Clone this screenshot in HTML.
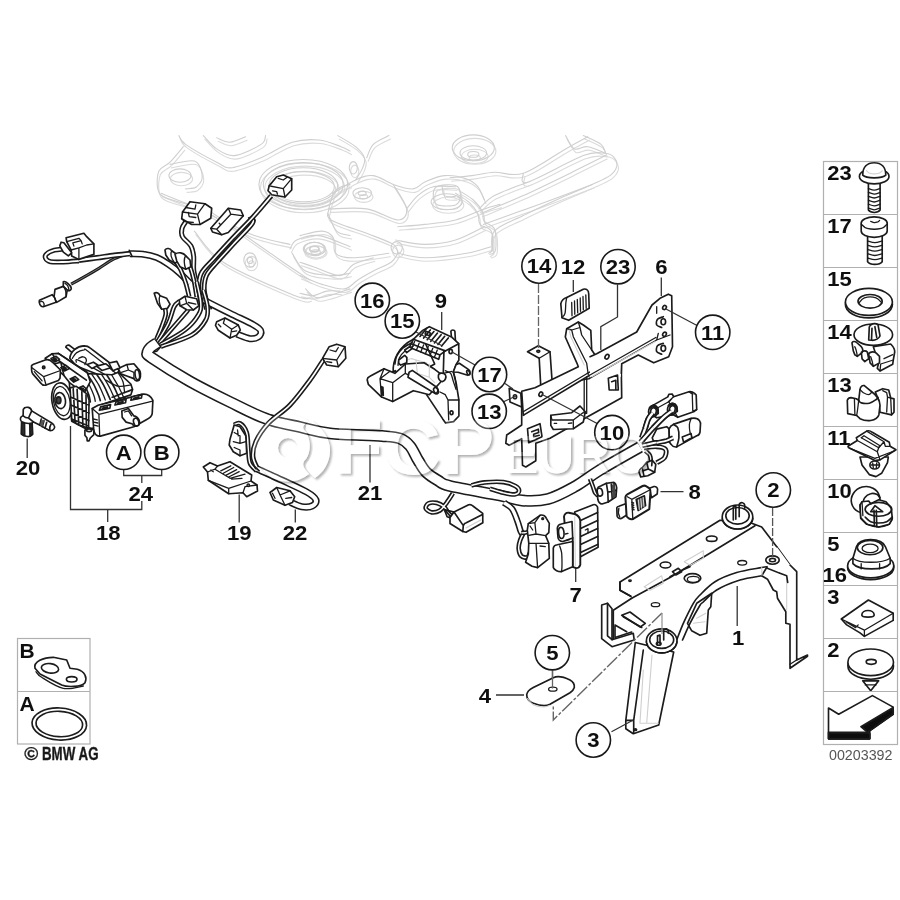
<!DOCTYPE html>
<html lang="en">
<head>
<meta charset="utf-8">
<title>BMW parts diagram 00203392</title>
<style>
html,body{margin:0;padding:0;background:#fff;}
body{width:900px;height:900px;overflow:hidden;font-family:"Liberation Sans",sans-serif;}
svg{display:block;}
.k{fill:none;stroke:#1a1a1a;stroke-width:1.65;stroke-linecap:round;stroke-linejoin:round;}
.kw{fill:#fff;stroke:#1a1a1a;stroke-width:1.65;stroke-linecap:round;stroke-linejoin:round;}
.t{fill:none;stroke:#1a1a1a;stroke-width:1.3;stroke-linecap:round;stroke-linejoin:round;}
.tw{fill:#fff;stroke:#1a1a1a;stroke-width:1.3;stroke-linecap:round;stroke-linejoin:round;}
.g{fill:none;stroke:#cfcfcf;stroke-width:1.1;stroke-linecap:round;stroke-linejoin:round;}
.gw{fill:#fff;stroke:#cfcfcf;stroke-width:1.1;stroke-linecap:round;stroke-linejoin:round;}
.ld{fill:none;stroke:#333;stroke-width:1.3;}
.c{fill:#fff;stroke:#1a1a1a;stroke-width:1.6;}
.n{font-family:"Liberation Sans",sans-serif;font-weight:bold;font-size:20px;fill:#111;text-anchor:middle;}
.nl{font-family:"Liberation Sans",sans-serif;font-weight:bold;font-size:20px;fill:#111;text-anchor:start;}
.fr{fill:none;stroke:#b0b0b0;stroke-width:1.2;}
.wo{stroke:#1a1a1a;fill:none;stroke-linecap:round;stroke-linejoin:round;}
.wi{stroke:#fff;fill:none;stroke-linecap:round;stroke-linejoin:round;}
</style>
</head>
<body>
<svg width="900" height="900" viewBox="0 0 900 900">
<defs><filter id="soft" x="0" y="0" width="900" height="900" filterUnits="userSpaceOnUse"><feGaussianBlur stdDeviation="0.42"/></filter></defs>
<rect width="900" height="900" fill="#fff"/>
<g filter="url(#soft)">
<g id="ghostdup" transform="translate(1.5 3.5)" style="opacity:0.75"><path class="g" d="M178.9 135.6C180 137 179.3 140 185.6 144.4C191.9 148.9 208.9 158.3 216.7 162.2C224.4 166.1 224.8 168.5 232.2 167.8C239.6 167 251.1 162 261.1 157.8C271.1 153.5 282.6 145.2 292.2 142.2C301.9 139.3 310.7 139.3 318.9 140C327 140.7 335.9 144.8 341.1 146.7C346.3 148.5 348.5 150.4 350 151.1" />
<path class="g" d="M203.3 135.6C205.6 137.8 211.5 145.6 216.7 148.9C221.9 152.2 227 156.3 234.4 155.6C241.9 154.8 255.9 147.8 261.1 144.4C266.3 141.1 264.8 137 265.6 135.6" />
<path class="g" d="M216.7 137.8C218.9 138.5 225.2 142.4 230 142.2C234.8 142 243 137.6 245.6 136.7" />
<path class="g" d="M183.3 146.7C181.1 149.3 174.1 158.1 170 162.2C165.9 166.3 160.9 166.7 158.9 171.1C156.9 175.6 156.7 184.4 157.8 188.9C158.9 193.3 159.4 194.8 165.6 197.8C171.7 200.7 185.9 203.3 194.4 206.7C203 210 213 215.9 216.7 217.8" />
<path class="g" d="M170 164.4C174.1 163.9 189.1 159.3 194.4 161.1C199.8 163 201.9 171.3 202.2 175.6C202.6 179.8 199.4 184.4 196.7 186.7C193.9 188.9 187.4 188.5 185.6 188.9" />
<ellipse class="g" cx="180" cy="175.6" rx="11.1" ry="6.7"/>
<path class="g" d="M161.1 193.3C164.8 194.8 174.8 198.9 183.3 202.2C191.9 205.6 207.4 211.5 212.2 213.3" />
<ellipse class="g" cx="303.3" cy="184.4" rx="44.4" ry="24.9"/>
<ellipse class="g" cx="303.3" cy="184.4" rx="40" ry="21.8"/>
<ellipse class="g" cx="303.3" cy="185.6" rx="34.4" ry="17.8"/>
<ellipse class="g" cx="303.3" cy="186.7" rx="31.1" ry="15.1"/>
<path class="g" d="M203.3 206.7C209.3 210.7 225.6 221.9 238.9 231.1C252.2 240.4 271.5 254.1 283.3 262.2C295.2 270.4 305.6 277 310 280" />
<path class="g" d="M194.4 231.1C199.3 236.3 206.7 251.5 223.3 262.2C240 273 280 289.6 294.4 295.6C308.9 301.5 307.4 297.4 310 297.8" />
<path class="g" d="M223.3 220C228.5 222.6 243.3 231.5 254.4 235.6C265.6 239.6 284.1 243 290 244.4" />
<path class="g" d="M290 248.9C291.1 247.4 291.9 242.2 296.7 240C301.5 237.8 310 234.4 318.9 235.6C327.8 236.7 344.8 244.8 350 246.7" />
<ellipse class="g" cx="314.4" cy="248.4" rx="10" ry="6.2"/>
<ellipse class="g" cx="314.4" cy="248.9" rx="4.4" ry="2.7"/>
<path class="g" d="M292.2 253.3C294.4 256.3 298.9 267.4 305.6 271.1C312.2 274.8 324.8 275.2 332.2 275.6C339.6 275.9 347 273.7 350 273.3" />
<path class="g" d="M305.6 288.9C307.8 290.4 311.5 297.8 318.9 297.8C326.3 297.8 344.8 290.4 350 288.9" />
<ellipse class="g" cx="250" cy="260" rx="6.2" ry="7.1"/>
<ellipse class="g" cx="250" cy="260.4" rx="2.7" ry="3.1"/>
<path class="g" d="M332.2 193.3C333.7 192.2 338.1 188.1 341.1 186.7C344.1 185.2 348.5 184.8 350 184.4" />
<path class="g" d="M327.8 213.3C329.3 216.3 333 227.4 336.7 231.1C340.4 234.8 347.8 234.8 350 235.6" />
<ellipse class="g" cx="362.2" cy="193.3" rx="9.3" ry="5.6"/>
<ellipse class="g" cx="362.2" cy="193.3" rx="4" ry="2.2"/>
<ellipse class="g" cx="314.4" cy="248.9" rx="11.1" ry="6.7"/>
<ellipse class="g" cx="314.4" cy="249.3" rx="4.9" ry="2.9"/>
<ellipse class="g" cx="473.3" cy="147.8" rx="21.1" ry="12.9"/>
<ellipse class="g" cx="473.3" cy="152.9" rx="13.3" ry="7.1"/>
<ellipse class="g" cx="473.3" cy="154.4" rx="5.6" ry="2.9"/>
<path class="g" d="M333.3 193.3C337 191.1 348.9 183 355.6 180C362.2 177 367 174.8 373.3 175.6C379.6 176.3 386.7 182.2 393.3 184.4C400 186.7 408.1 189.3 413.3 188.9C418.5 188.5 419.3 184.4 424.4 182.2C429.6 180 437.4 176.1 444.4 175.6C451.5 175 461.1 177 466.7 178.9C472.2 180.7 474.8 183.1 477.8 186.7C480.7 190.2 483.3 197.8 484.4 200" />
<path class="g" d="M333.3 193.3C332.6 195.9 329.3 204.4 328.9 208.9C328.5 213.3 324.8 215.9 331.1 220C337.4 224.1 356.3 229.3 366.7 233.3C377 237.4 388.1 241.1 393.3 244.4C398.5 247.8 397 251.9 397.8 253.3" />
<path class="g" d="M393.3 184.4C395.6 188.5 405.9 203 406.7 208.9C407.4 214.8 404.4 220 397.8 220C391.1 220 378.1 210.7 366.7 208.9C355.2 207 335.2 208.9 328.9 208.9" />
<path class="g" d="M406.7 208.9C408.5 206.7 413.3 199.3 417.8 195.6C422.2 191.9 427 188.1 433.3 186.7C439.6 185.2 451.9 186.7 455.6 186.7" />
<path class="g" d="M397.8 226.7C402.2 226.3 414.8 225.6 424.4 224.4C434.1 223.3 445.6 222.6 455.6 220C465.6 217.4 477 211.5 484.4 208.9C491.9 206.3 497.4 205.2 500 204.4" />
<path class="g" d="M395.6 240C400.4 240.7 414.4 244.4 424.4 244.4C434.4 244.4 445.6 243 455.6 240C465.6 237 479.6 228.9 484.4 226.7" />
<path class="g" d="M397.8 253.3C402.2 254.1 413 257.8 424.4 257.8C435.9 257.8 455.6 255.2 466.7 253.3C477.8 251.5 487 247.8 491.1 246.7" />
<path class="g" d="M300 235.6C303.7 234.8 316.7 230.7 322.2 231.1C327.8 231.5 331.1 234.1 333.3 237.8C335.6 241.5 332.2 250 335.6 253.3C338.9 256.7 344.4 257.8 353.3 257.8C362.2 257.8 383 254.1 388.9 253.3" />
<path class="g" d="M300 275.6C303.7 277 314.8 282.2 322.2 284.4C329.6 286.7 338.5 289.6 344.4 288.9C350.4 288.1 353 283 357.8 280C362.6 277 367.8 274.1 373.3 271.1C378.9 268.1 387 265.2 391.1 262.2C395.2 259.3 396.7 254.8 397.8 253.3" />
<path class="g" d="M300 262.2C302.2 263 306.7 264.4 313.3 266.7C320 268.9 333.3 275.9 340 275.6C346.7 275.2 347.8 267.4 353.3 264.4C358.9 261.5 370 258.9 373.3 257.8" />
<path class="g" d="M337.8 135.6C340.7 137.4 351.1 143 355.6 146.7C360 150.4 363.3 154.1 364.4 157.8C365.6 161.5 363.7 165.2 362.2 168.9C360.7 172.6 356.7 178.1 355.6 180" />
<path class="g" d="M388.9 135.6C386.3 137 377 140.7 373.3 144.4C369.6 148.1 367.8 155.6 366.7 157.8" />
<path class="g" d="M300 293.3C302.2 293.7 308.9 295.9 313.3 295.6C317.8 295.2 322.2 291.9 326.7 291.1C331.1 290.4 337.8 291.1 340 291.1" />
<ellipse class="g" cx="353.3" cy="167.8" rx="4" ry="6.2"/>
<ellipse class="g" cx="396.7" cy="247.8" rx="5.6" ry="6.2"/>
<g style="stroke:#b4b4b4">
<ellipse class="g" cx="446.7" cy="201.8" rx="15.6" ry="8"/>
<path class="g" d="M436.7 186.7C440.4 184.8 451.6 184.1 455.6 185.6C459.5 187 460.4 192.3 460.4 195.6C460.4 198.8 459.3 203.3 455.6 204.9C451.8 206.4 441.5 206.3 437.8 204.9C434.1 203.5 433.5 199.7 433.3 196.7C433.1 193.6 433 188.5 436.7 186.7Z" />
<path class="g" d="M442.2 186.7C442.6 188.1 442.2 193.9 444.4 195.6C446.7 197.2 453.7 196.5 455.6 196.7" />
<path class="g" d="M455.6 193.3C457.8 194.8 465.2 198.9 468.9 202.2C472.6 205.6 475.9 209.6 477.8 213.3C479.6 217 477.8 221.5 480 224.4C482.2 227.4 489.1 227 491.1 231.1C493.1 235.2 492.6 245.2 492.2 248.9C491.9 252.6 489.4 252.6 488.9 253.3" />
<path class="g" d="M460 191.1C462.2 192.6 469.6 196.7 473.3 200C477 203.3 480.4 207.6 482.2 211.1C484 214.6 482 218.1 484 221.1C486 224.1 492.5 224.1 494.4 228.9C496.4 233.7 496.3 245.7 495.6 250C494.8 254.3 490.9 253.7 490 254.4" />
</g>
<path class="g" d="M450 177.8C453.7 177.4 464.8 176.5 472.2 175.6C479.6 174.6 485.9 172.6 494.4 172.2C503 171.9 511.5 177.2 523.3 173.3C535.2 169.4 554.8 155 565.6 148.9C576.3 142.8 584.1 138.7 587.8 136.7" />
<path class="g" d="M523.3 173.3C524.1 174.8 517.8 185.2 527.8 182.2C537.8 179.3 570.4 160.4 583.3 155.6C596.3 150.7 600.4 153 605.6 153.3C610.7 153.7 612.6 155.6 614.4 157.8C616.3 160 617.4 163.7 616.7 166.7C615.9 169.6 614.1 172.6 610 175.6C605.9 178.5 600.4 180.7 592.2 184.4C584.1 188.1 572.6 192.6 561.1 197.8C549.6 203 534.4 210 523.3 215.6C512.2 221.1 499.6 225.2 494.4 231.1C489.3 237 492.6 247.8 492.2 251.1" />
<path class="g" d="M527.8 182.2C522.2 184.4 502.6 191.1 494.4 195.6C486.3 200 481.5 206.7 478.9 208.9" />
<path class="g" d="M481.1 213.3C488.1 210.4 507.8 202.6 523.3 195.6C538.9 188.5 560.7 177.8 574.4 171.1C588.1 164.4 600.4 158.1 605.6 155.6" />
<path class="g" d="M483.3 224.4C492.6 221.1 520.7 211.1 538.9 204.4C557 197.8 583.3 187.8 592.2 184.4" />
<path class="g" d="M565.6 135.6C567 137.8 570.7 147 574.4 148.9C578.1 150.7 582.6 145.9 587.8 146.7C593 147.4 602.6 152.2 605.6 153.3" />
<path class="g" d="M583.3 135.6C586.3 137 597.4 141.5 601.1 144.4C604.8 147.4 604.8 151.9 605.6 153.3" /></g>
<path class="g" d="M178.9 135.6C180 137 179.3 140 185.6 144.4C191.9 148.9 208.9 158.3 216.7 162.2C224.4 166.1 224.8 168.5 232.2 167.8C239.6 167 251.1 162 261.1 157.8C271.1 153.5 282.6 145.2 292.2 142.2C301.9 139.3 310.7 139.3 318.9 140C327 140.7 335.9 144.8 341.1 146.7C346.3 148.5 348.5 150.4 350 151.1" />
<path class="g" d="M203.3 135.6C205.6 137.8 211.5 145.6 216.7 148.9C221.9 152.2 227 156.3 234.4 155.6C241.9 154.8 255.9 147.8 261.1 144.4C266.3 141.1 264.8 137 265.6 135.6" />
<path class="g" d="M216.7 137.8C218.9 138.5 225.2 142.4 230 142.2C234.8 142 243 137.6 245.6 136.7" />
<path class="g" d="M183.3 146.7C181.1 149.3 174.1 158.1 170 162.2C165.9 166.3 160.9 166.7 158.9 171.1C156.9 175.6 156.7 184.4 157.8 188.9C158.9 193.3 159.4 194.8 165.6 197.8C171.7 200.7 185.9 203.3 194.4 206.7C203 210 213 215.9 216.7 217.8" />
<path class="g" d="M170 164.4C174.1 163.9 189.1 159.3 194.4 161.1C199.8 163 201.9 171.3 202.2 175.6C202.6 179.8 199.4 184.4 196.7 186.7C193.9 188.9 187.4 188.5 185.6 188.9" />
<ellipse class="g" cx="180" cy="175.6" rx="11.1" ry="6.7"/>
<path class="g" d="M161.1 193.3C164.8 194.8 174.8 198.9 183.3 202.2C191.9 205.6 207.4 211.5 212.2 213.3" />
<ellipse class="g" cx="303.3" cy="184.4" rx="44.4" ry="24.9"/>
<ellipse class="g" cx="303.3" cy="184.4" rx="40" ry="21.8"/>
<ellipse class="g" cx="303.3" cy="185.6" rx="34.4" ry="17.8"/>
<ellipse class="g" cx="303.3" cy="186.7" rx="31.1" ry="15.1"/>
<path class="g" d="M203.3 206.7C209.3 210.7 225.6 221.9 238.9 231.1C252.2 240.4 271.5 254.1 283.3 262.2C295.2 270.4 305.6 277 310 280" />
<path class="g" d="M194.4 231.1C199.3 236.3 206.7 251.5 223.3 262.2C240 273 280 289.6 294.4 295.6C308.9 301.5 307.4 297.4 310 297.8" />
<path class="g" d="M223.3 220C228.5 222.6 243.3 231.5 254.4 235.6C265.6 239.6 284.1 243 290 244.4" />
<path class="g" d="M290 248.9C291.1 247.4 291.9 242.2 296.7 240C301.5 237.8 310 234.4 318.9 235.6C327.8 236.7 344.8 244.8 350 246.7" />
<ellipse class="g" cx="314.4" cy="248.4" rx="10" ry="6.2"/>
<ellipse class="g" cx="314.4" cy="248.9" rx="4.4" ry="2.7"/>
<path class="g" d="M292.2 253.3C294.4 256.3 298.9 267.4 305.6 271.1C312.2 274.8 324.8 275.2 332.2 275.6C339.6 275.9 347 273.7 350 273.3" />
<path class="g" d="M305.6 288.9C307.8 290.4 311.5 297.8 318.9 297.8C326.3 297.8 344.8 290.4 350 288.9" />
<ellipse class="g" cx="250" cy="260" rx="6.2" ry="7.1"/>
<ellipse class="g" cx="250" cy="260.4" rx="2.7" ry="3.1"/>
<path class="g" d="M332.2 193.3C333.7 192.2 338.1 188.1 341.1 186.7C344.1 185.2 348.5 184.8 350 184.4" />
<path class="g" d="M327.8 213.3C329.3 216.3 333 227.4 336.7 231.1C340.4 234.8 347.8 234.8 350 235.6" />
<ellipse class="g" cx="362.2" cy="193.3" rx="9.3" ry="5.6"/>
<ellipse class="g" cx="362.2" cy="193.3" rx="4" ry="2.2"/>
<ellipse class="g" cx="314.4" cy="248.9" rx="11.1" ry="6.7"/>
<ellipse class="g" cx="314.4" cy="249.3" rx="4.9" ry="2.9"/>
<ellipse class="g" cx="473.3" cy="147.8" rx="21.1" ry="12.9"/>
<ellipse class="g" cx="473.3" cy="152.9" rx="13.3" ry="7.1"/>
<ellipse class="g" cx="473.3" cy="154.4" rx="5.6" ry="2.9"/>
<path class="g" d="M333.3 193.3C337 191.1 348.9 183 355.6 180C362.2 177 367 174.8 373.3 175.6C379.6 176.3 386.7 182.2 393.3 184.4C400 186.7 408.1 189.3 413.3 188.9C418.5 188.5 419.3 184.4 424.4 182.2C429.6 180 437.4 176.1 444.4 175.6C451.5 175 461.1 177 466.7 178.9C472.2 180.7 474.8 183.1 477.8 186.7C480.7 190.2 483.3 197.8 484.4 200" />
<path class="g" d="M333.3 193.3C332.6 195.9 329.3 204.4 328.9 208.9C328.5 213.3 324.8 215.9 331.1 220C337.4 224.1 356.3 229.3 366.7 233.3C377 237.4 388.1 241.1 393.3 244.4C398.5 247.8 397 251.9 397.8 253.3" />
<path class="g" d="M393.3 184.4C395.6 188.5 405.9 203 406.7 208.9C407.4 214.8 404.4 220 397.8 220C391.1 220 378.1 210.7 366.7 208.9C355.2 207 335.2 208.9 328.9 208.9" />
<path class="g" d="M406.7 208.9C408.5 206.7 413.3 199.3 417.8 195.6C422.2 191.9 427 188.1 433.3 186.7C439.6 185.2 451.9 186.7 455.6 186.7" />
<path class="g" d="M397.8 226.7C402.2 226.3 414.8 225.6 424.4 224.4C434.1 223.3 445.6 222.6 455.6 220C465.6 217.4 477 211.5 484.4 208.9C491.9 206.3 497.4 205.2 500 204.4" />
<path class="g" d="M395.6 240C400.4 240.7 414.4 244.4 424.4 244.4C434.4 244.4 445.6 243 455.6 240C465.6 237 479.6 228.9 484.4 226.7" />
<path class="g" d="M397.8 253.3C402.2 254.1 413 257.8 424.4 257.8C435.9 257.8 455.6 255.2 466.7 253.3C477.8 251.5 487 247.8 491.1 246.7" />
<path class="g" d="M300 235.6C303.7 234.8 316.7 230.7 322.2 231.1C327.8 231.5 331.1 234.1 333.3 237.8C335.6 241.5 332.2 250 335.6 253.3C338.9 256.7 344.4 257.8 353.3 257.8C362.2 257.8 383 254.1 388.9 253.3" />
<path class="g" d="M300 275.6C303.7 277 314.8 282.2 322.2 284.4C329.6 286.7 338.5 289.6 344.4 288.9C350.4 288.1 353 283 357.8 280C362.6 277 367.8 274.1 373.3 271.1C378.9 268.1 387 265.2 391.1 262.2C395.2 259.3 396.7 254.8 397.8 253.3" />
<path class="g" d="M300 262.2C302.2 263 306.7 264.4 313.3 266.7C320 268.9 333.3 275.9 340 275.6C346.7 275.2 347.8 267.4 353.3 264.4C358.9 261.5 370 258.9 373.3 257.8" />
<path class="g" d="M337.8 135.6C340.7 137.4 351.1 143 355.6 146.7C360 150.4 363.3 154.1 364.4 157.8C365.6 161.5 363.7 165.2 362.2 168.9C360.7 172.6 356.7 178.1 355.6 180" />
<path class="g" d="M388.9 135.6C386.3 137 377 140.7 373.3 144.4C369.6 148.1 367.8 155.6 366.7 157.8" />
<path class="g" d="M300 293.3C302.2 293.7 308.9 295.9 313.3 295.6C317.8 295.2 322.2 291.9 326.7 291.1C331.1 290.4 337.8 291.1 340 291.1" />
<ellipse class="g" cx="353.3" cy="167.8" rx="4" ry="6.2"/>
<ellipse class="g" cx="396.7" cy="247.8" rx="5.6" ry="6.2"/>
<g style="stroke:#b4b4b4">
<ellipse class="g" cx="446.7" cy="201.8" rx="15.6" ry="8"/>
<path class="g" d="M436.7 186.7C440.4 184.8 451.6 184.1 455.6 185.6C459.5 187 460.4 192.3 460.4 195.6C460.4 198.8 459.3 203.3 455.6 204.9C451.8 206.4 441.5 206.3 437.8 204.9C434.1 203.5 433.5 199.7 433.3 196.7C433.1 193.6 433 188.5 436.7 186.7Z" />
<path class="g" d="M442.2 186.7C442.6 188.1 442.2 193.9 444.4 195.6C446.7 197.2 453.7 196.5 455.6 196.7" />
<path class="g" d="M455.6 193.3C457.8 194.8 465.2 198.9 468.9 202.2C472.6 205.6 475.9 209.6 477.8 213.3C479.6 217 477.8 221.5 480 224.4C482.2 227.4 489.1 227 491.1 231.1C493.1 235.2 492.6 245.2 492.2 248.9C491.9 252.6 489.4 252.6 488.9 253.3" />
<path class="g" d="M460 191.1C462.2 192.6 469.6 196.7 473.3 200C477 203.3 480.4 207.6 482.2 211.1C484 214.6 482 218.1 484 221.1C486 224.1 492.5 224.1 494.4 228.9C496.4 233.7 496.3 245.7 495.6 250C494.8 254.3 490.9 253.7 490 254.4" />
</g>
<path class="g" d="M450 177.8C453.7 177.4 464.8 176.5 472.2 175.6C479.6 174.6 485.9 172.6 494.4 172.2C503 171.9 511.5 177.2 523.3 173.3C535.2 169.4 554.8 155 565.6 148.9C576.3 142.8 584.1 138.7 587.8 136.7" />
<path class="g" d="M523.3 173.3C524.1 174.8 517.8 185.2 527.8 182.2C537.8 179.3 570.4 160.4 583.3 155.6C596.3 150.7 600.4 153 605.6 153.3C610.7 153.7 612.6 155.6 614.4 157.8C616.3 160 617.4 163.7 616.7 166.7C615.9 169.6 614.1 172.6 610 175.6C605.9 178.5 600.4 180.7 592.2 184.4C584.1 188.1 572.6 192.6 561.1 197.8C549.6 203 534.4 210 523.3 215.6C512.2 221.1 499.6 225.2 494.4 231.1C489.3 237 492.6 247.8 492.2 251.1" />
<path class="g" d="M527.8 182.2C522.2 184.4 502.6 191.1 494.4 195.6C486.3 200 481.5 206.7 478.9 208.9" />
<path class="g" d="M481.1 213.3C488.1 210.4 507.8 202.6 523.3 195.6C538.9 188.5 560.7 177.8 574.4 171.1C588.1 164.4 600.4 158.1 605.6 155.6" />
<path class="g" d="M483.3 224.4C492.6 221.1 520.7 211.1 538.9 204.4C557 197.8 583.3 187.8 592.2 184.4" />
<path class="g" d="M565.6 135.6C567 137.8 570.7 147 574.4 148.9C578.1 150.7 582.6 145.9 587.8 146.7C593 147.4 602.6 152.2 605.6 153.3" />
<path class="g" d="M583.3 135.6C586.3 137 597.4 141.5 601.1 144.4C604.8 147.4 604.8 151.9 605.6 153.3" />
<path d="M71.1 284.2C73.5 282.9 80.9 278.8 85.6 276.1C90.2 273.5 94.1 271.2 98.9 268.3C103.7 265.4 109.3 261.2 114.4 258.7C119.6 256.1 127.4 254 130 253.1" fill="none" stroke="#1a1a1a" stroke-width="3.1" stroke-linecap="butt" stroke-linejoin="round"/><path d="M71.1 284.2C73.5 282.9 80.9 278.8 85.6 276.1C90.2 273.5 94.1 271.2 98.9 268.3C103.7 265.4 109.3 261.2 114.4 258.7C119.6 256.1 127.4 254 130 253.1" fill="none" stroke="#fff" stroke-width="0.4" stroke-linecap="butt" stroke-linejoin="round"/>
<path d="M63.3 249.1C61.9 249.3 57.2 249.4 54.4 250.2C51.7 251 48.1 252.5 46.7 253.9C45.2 255.2 44.9 257 45.6 258.3C46.2 259.6 47.6 261.1 50.6 261.7C53.5 262.3 58.6 262.1 63.3 262C68.1 261.9 76.3 261.1 78.9 260.9" fill="none" stroke="#1a1a1a" stroke-width="5" stroke-linecap="butt" stroke-linejoin="round"/><path d="M63.3 249.1C61.9 249.3 57.2 249.4 54.4 250.2C51.7 251 48.1 252.5 46.7 253.9C45.2 255.2 44.9 257 45.6 258.3C46.2 259.6 47.6 261.1 50.6 261.7C53.5 262.3 58.6 262.1 63.3 262C68.1 261.9 76.3 261.1 78.9 260.9" fill="none" stroke="#fff" stroke-width="1.9" stroke-linecap="butt" stroke-linejoin="round"/>
<path d="M78.9 260.2C81.9 259.8 90.7 258.6 96.7 257.8C102.6 257 108.9 256 114.4 255.3C120 254.6 127.4 253.9 130 253.6" fill="none" stroke="#1a1a1a" stroke-width="5.5" stroke-linecap="butt" stroke-linejoin="round"/><path d="M78.9 260.2C81.9 259.8 90.7 258.6 96.7 257.8C102.6 257 108.9 256 114.4 255.3C120 254.6 127.4 253.9 130 253.6" fill="none" stroke="#fff" stroke-width="2.3" stroke-linecap="butt" stroke-linejoin="round"/>
<path class="kw" d="M66.1 237.8 L83.9 233.3 L86.7 236.7 L93.9 243.9 L93.9 254.4 L78.9 259.4 L71.7 256.1 L71.1 250 L66.7 241.7 Z" />
<path class="t" d="M71.1 250 L78.9 247.8 L78.9 259.4 M78.9 247.8 L86.7 245 L93.9 243.9 M66.7 241.7 L78.9 238.3 L81.1 240.6 L72.8 242.8 L73.9 246.1 M81.1 240.6 L82.2 243.9" />
<path class="kw" d="M61.1 242.2 L63.9 242.8 L71.7 252.8 L68.3 255.8 L63.3 252.2 L59.8 245.8 Z" />
<path class="kw" d="M63.3 281.7 C65.6 280.6 71.1 285.6 71.3 288.3 C71.3 290.6 68.9 291.1 67.2 290.2 L63.3 286.7 Z" />
<path class="kw" d="M55 289.4 L63.3 286.4 L67.2 290.2 L66.1 296.7 L56.7 302.4 L53.9 297.8 Z" />
<path class="kw" d="M39.4 300.2 L52.2 294.7 L54.7 297.8 L56.1 302.2 L43.3 306.7 C40.6 307.2 38.3 302.8 39.4 300.2 Z" />
<path class="t" d="M40.6 301.7 C42.2 300 45 303.3 43.9 306.1 M52.2 294.7 C53.9 295.6 55.6 300 56.1 302.2 M63.3 286.4 C65 287.8 66.1 292.2 66.1 296.7 M65 283.3 C67.2 284.4 68.9 287.8 68.9 290.6" />
<path d="M130 253.7C132.2 253.8 138.9 253.5 143.3 254.2C147.8 254.8 152.5 255.8 156.7 257.5C160.8 259.2 164.4 261.5 168.3 264.2C172.2 266.8 176.4 270.1 180 273.3C183.6 276.5 188.3 281.7 190 283.3" fill="none" stroke="#1a1a1a" stroke-width="7" stroke-linecap="butt" stroke-linejoin="round"/><path d="M130 253.7C132.2 253.8 138.9 253.5 143.3 254.2C147.8 254.8 152.5 255.8 156.7 257.5C160.8 259.2 164.4 261.5 168.3 264.2C172.2 266.8 176.4 270.1 180 273.3C183.6 276.5 188.3 281.7 190 283.3" fill="none" stroke="#fff" stroke-width="3.9" stroke-linecap="butt" stroke-linejoin="round"/>
<path class="k" d="M129.3 250.3 L132 256.3" />
<path d="M185.8 221.7C185.2 222.8 182.6 225.8 182 228.3C181.4 230.8 181 233.8 182.5 236.7C184 239.6 189 242.5 190.8 245.8C192.7 249.2 193.2 252.6 193.7 256.7C194.1 260.7 193.2 265.6 193.7 270C194.2 274.4 196.2 281.1 196.7 283.3" fill="none" stroke="#1a1a1a" stroke-width="5" stroke-linecap="butt" stroke-linejoin="round"/><path d="M185.8 221.7C185.2 222.8 182.6 225.8 182 228.3C181.4 230.8 181 233.8 182.5 236.7C184 239.6 189 242.5 190.8 245.8C192.7 249.2 193.2 252.6 193.7 256.7C194.1 260.7 193.2 265.6 193.7 270C194.2 274.4 196.2 281.1 196.7 283.3" fill="none" stroke="#fff" stroke-width="1.9" stroke-linecap="butt" stroke-linejoin="round"/>
<path d="M175 260C176 261.7 179 266.1 180.8 270C182.6 273.9 184.4 278.9 185.8 283.3C187.2 287.8 188.6 294.4 189.2 296.7" fill="none" stroke="#1a1a1a" stroke-width="4.7" stroke-linecap="butt" stroke-linejoin="round"/><path d="M175 260C176 261.7 179 266.1 180.8 270C182.6 273.9 184.4 278.9 185.8 283.3C187.2 287.8 188.6 294.4 189.2 296.7" fill="none" stroke="#fff" stroke-width="1.5" stroke-linecap="butt" stroke-linejoin="round"/>
<path d="M183.3 256.7C184.4 258.3 188.2 262.5 190 266.7C191.8 270.8 193.1 276.7 194.2 281.7C195.3 286.7 196.2 294.2 196.7 296.7" fill="none" stroke="#1a1a1a" stroke-width="4.7" stroke-linecap="butt" stroke-linejoin="round"/><path d="M183.3 256.7C184.4 258.3 188.2 262.5 190 266.7C191.8 270.8 193.1 276.7 194.2 281.7C195.3 286.7 196.2 294.2 196.7 296.7" fill="none" stroke="#fff" stroke-width="1.5" stroke-linecap="butt" stroke-linejoin="round"/>
<path d="M250 216.7C250.4 217.8 255.3 218.7 252.5 223.3C249.7 227.9 239.3 237.6 233.3 244.2C227.4 250.7 221.1 257.4 216.7 262.5C212.2 267.6 208.8 270.7 206.7 275C204.6 279.3 204.2 283.9 204.2 288.3C204.2 292.8 205.7 298.1 206.7 301.7C207.6 305.3 209.4 308.6 210 310" fill="none" stroke="#1a1a1a" stroke-width="4.9" stroke-linecap="butt" stroke-linejoin="round"/><path d="M250 216.7C250.4 217.8 255.3 218.7 252.5 223.3C249.7 227.9 239.3 237.6 233.3 244.2C227.4 250.7 221.1 257.4 216.7 262.5C212.2 267.6 208.8 270.7 206.7 275C204.6 279.3 204.2 283.9 204.2 288.3C204.2 292.8 205.7 298.1 206.7 301.7C207.6 305.3 209.4 308.6 210 310" fill="none" stroke="#fff" stroke-width="1.7" stroke-linecap="butt" stroke-linejoin="round"/>
<path d="M271.3 195.8C268.3 199.3 259.7 209.7 253.3 216.7C247 223.6 240 230.4 233.3 237.5C226.7 244.6 218.6 253.3 213.3 259.2C208.1 265 204.1 268.2 201.7 272.5C199.2 276.8 199.1 281 198.8 285C198.6 289 199.2 292.5 200 296.7C200.8 300.8 202.8 307.8 203.3 310" fill="none" stroke="#1a1a1a" stroke-width="4.9" stroke-linecap="butt" stroke-linejoin="round"/><path d="M271.3 195.8C268.3 199.3 259.7 209.7 253.3 216.7C247 223.6 240 230.4 233.3 237.5C226.7 244.6 218.6 253.3 213.3 259.2C208.1 265 204.1 268.2 201.7 272.5C199.2 276.8 199.1 281 198.8 285C198.6 289 199.2 292.5 200 296.7C200.8 300.8 202.8 307.8 203.3 310" fill="none" stroke="#fff" stroke-width="1.7" stroke-linecap="butt" stroke-linejoin="round"/>
<path class="kw" d="M269.2 185.8 L276.7 176.7 L283.3 175 L291.7 178.7 L291.7 190 L285 197 L271.7 194.7 L268 190.8 Z" />
<path class="t" d="M269.2 185.8 L283.3 188.7 L291.7 178.7 M283.3 188.7 L285 197 M272.5 190.8 L276.7 191.7 L277.5 194.2 M278.3 178.3 L283.3 180 L286.7 177.5" />
<path class="kw" d="M210.8 228.3 L228.3 208.3 L240.8 210 L243.3 215.8 L228.3 232.5 L221.7 234.7 L212.5 232 Z" />
<path class="t" d="M228.3 208.3 L230.8 214.2 L216.7 229.2 L210.8 228.3 M230.8 214.2 L243.3 215.8 M216.7 229.2 L221.7 234.7 M219.2 223.3 L220.8 225" />
<path class="kw" d="M182.5 212 L190 201.7 L205 203.7 L211.7 208.3 L210.8 218.3 L200 224.5 L191.7 224.5 L181.7 218.7 Z" />
<path class="t" d="M182.5 212 L197.5 214.2 L205 203.7 M197.5 214.2 L200 224.5 M185.8 207.5 L195 209.2 L195.8 205 M188.3 212.5 L189.2 216.7 L195.8 217.5 M181.7 218.7 L185 221.7 L193.3 222.5" />
<path class="kw" d="M165 250 C166.7 247.5 170 248.3 171.7 250.8 L176.7 254.2 L179.2 260 L175 263.3 L169.2 260 L165.8 255 Z" />
<path class="kw" d="M175 254.2 C178.3 251.7 183.3 252.5 185.8 255.8 L190 260 L190.8 266.7 L185.8 269.2 L180 266.7 L176.7 260.8 Z" />
<path class="t" d="M171.7 250.8 C170 253.3 170.8 258.3 175 263.3 M185.8 255.8 C183.3 258.3 184.2 265 185.8 269.2" />
<path d="M204.2 300.3C208.5 302.5 221.8 309.3 230 313.3C238.2 317.4 248.2 321.8 253.3 324.7C258.5 327.6 260 328.8 260.8 330.8C261.7 332.9 260.1 335.7 258.3 337C256.5 338.3 253.6 339.1 250 338.7C246.4 338.2 238.9 334.9 236.7 334.2" fill="none" stroke="#1a1a1a" stroke-width="7" stroke-linecap="butt" stroke-linejoin="round"/><path d="M204.2 300.3C208.5 302.5 221.8 309.3 230 313.3C238.2 317.4 248.2 321.8 253.3 324.7C258.5 327.6 260 328.8 260.8 330.8C261.7 332.9 260.1 335.7 258.3 337C256.5 338.3 253.6 339.1 250 338.7C246.4 338.2 238.9 334.9 236.7 334.2" fill="none" stroke="#fff" stroke-width="3.9" stroke-linecap="butt" stroke-linejoin="round"/>
<path class="kw" d="M216.7 321.7 L225 318 L238.3 325 L240.3 330 L236.7 335.3 L230 338 L218.3 330.3 L215.5 325.3 Z" />
<path class="t" d="M225 318 L223.3 323.3 L231.7 329.2 L230 338 M231.7 329.2 L238.3 325 M218.3 324.2 L220.8 326.7 M232.5 331.7 L236.7 330.8" />
<path d="M155.3 342C156.4 339.4 159.9 331.4 161.7 326.7C163.4 321.9 165.6 317.1 165.8 313.3C166.1 309.6 163.8 305.7 163.3 304.2" fill="none" stroke="#1a1a1a" stroke-width="4.7" stroke-linecap="butt" stroke-linejoin="round"/><path d="M155.3 342C156.4 339.4 159.9 331.4 161.7 326.7C163.4 321.9 165.6 317.1 165.8 313.3C166.1 309.6 163.8 305.7 163.3 304.2" fill="none" stroke="#fff" stroke-width="1.5" stroke-linecap="butt" stroke-linejoin="round"/>
<path d="M157 342.5C158.9 339.3 165.5 329.3 168.3 323.3C171.2 317.4 172.2 310.4 174.2 306.7C176.1 302.9 179 301.8 180 300.8" fill="none" stroke="#1a1a1a" stroke-width="4.7" stroke-linecap="butt" stroke-linejoin="round"/><path d="M157 342.5C158.9 339.3 165.5 329.3 168.3 323.3C171.2 317.4 172.2 310.4 174.2 306.7C176.1 302.9 179 301.8 180 300.8" fill="none" stroke="#fff" stroke-width="1.5" stroke-linecap="butt" stroke-linejoin="round"/>
<path d="M158.7 343.7C161.7 340.3 172 328.7 176.7 323.3C181.3 318 184.4 314.4 186.7 311.7C188.9 308.9 189.4 307.5 190 306.7" fill="none" stroke="#1a1a1a" stroke-width="4.7" stroke-linecap="butt" stroke-linejoin="round"/><path d="M158.7 343.7C161.7 340.3 172 328.7 176.7 323.3C181.3 318 184.4 314.4 186.7 311.7C188.9 308.9 189.4 307.5 190 306.7" fill="none" stroke="#fff" stroke-width="1.5" stroke-linecap="butt" stroke-linejoin="round"/>
<path d="M160 345C164.2 342.5 178.6 335 185 330C191.4 325 195.7 319.4 198.3 315C201 310.6 201.1 308.9 200.8 303.3C200.6 297.8 197.4 285.3 196.7 281.7" fill="none" stroke="#1a1a1a" stroke-width="4.7" stroke-linecap="butt" stroke-linejoin="round"/><path d="M160 345C164.2 342.5 178.6 335 185 330C191.4 325 195.7 319.4 198.3 315C201 310.6 201.1 308.9 200.8 303.3C200.6 297.8 197.4 285.3 196.7 281.7" fill="none" stroke="#fff" stroke-width="1.5" stroke-linecap="butt" stroke-linejoin="round"/>
<path d="M160.8 346.7C166 344.7 184.2 339.4 191.7 335C199.2 330.6 203.2 324.7 205.8 320C208.5 315.3 207.9 311.7 207.5 306.7C207.1 301.7 204 292.8 203.3 290" fill="none" stroke="#1a1a1a" stroke-width="4.7" stroke-linecap="butt" stroke-linejoin="round"/><path d="M160.8 346.7C166 344.7 184.2 339.4 191.7 335C199.2 330.6 203.2 324.7 205.8 320C208.5 315.3 207.9 311.7 207.5 306.7C207.1 301.7 204 292.8 203.3 290" fill="none" stroke="#fff" stroke-width="1.5" stroke-linecap="butt" stroke-linejoin="round"/>
<path class="kw" d="M154.2 293.3 C156.7 291.7 159.2 293.3 160 295.8 L166.7 298.3 L170 304.2 L167.5 308.3 L161.7 309.2 L157.5 303.3 Z" />
<path class="t" d="M160 295.8 C158.3 298.3 159.2 304.2 161.7 309.2" />
<path class="kw" d="M179.2 300 L185 296.3 L196.7 298.7 L198.7 305.8 L193.3 310 L186.7 309.7 L180 305.8 Z" />
<path class="t" d="M185 296.3 L186.7 303.3 L193.3 310 M186.7 303.3 L180 305.8 M188.3 302.5 L195.8 304.2" />
<path class="kw" d="M151.3 342 L155 340 L160.8 346.7 L156.7 351.3 L153.3 352 Z" />
<path d="M157 343C155.9 343.8 152.1 345.8 150.5 347.5C148.9 349.2 147.2 351.2 147.5 353C147.8 354.8 144.9 353.2 152 358C159.1 362.8 177 374.2 190 381.5C203 388.8 217.3 395.8 230 402C242.7 408.2 254.3 414.5 266 418.7C277.7 422.9 289.3 424.6 300 427C310.7 429.4 316.3 431.8 330 433.3C343.7 434.8 370.3 435.1 382 436C393.7 436.9 395.3 436.8 400 438.5C404.7 440.2 407 442.4 410 446C413 449.6 415.3 455.7 418 460C420.7 464.3 422.7 468.6 426 472C429.3 475.4 434 478.2 438 480.5C442 482.8 439.7 483.5 450 486C460.3 488.5 488 493.1 500 495.5C512 497.9 514 499.9 522 500.5C530 501.1 539.2 501.3 548 499C556.8 496.7 566.3 491.3 575 486.5C583.7 481.7 589.2 476.6 600 470C610.8 463.4 633.3 450.8 640 447" fill="none" stroke="#1a1a1a" stroke-width="11.9" stroke-linecap="butt" stroke-linejoin="round"/><path d="M157 343C155.9 343.8 152.1 345.8 150.5 347.5C148.9 349.2 147.2 351.2 147.5 353C147.8 354.8 144.9 353.2 152 358C159.1 362.8 177 374.2 190 381.5C203 388.8 217.3 395.8 230 402C242.7 408.2 254.3 414.5 266 418.7C277.7 422.9 289.3 424.6 300 427C310.7 429.4 316.3 431.8 330 433.3C343.7 434.8 370.3 435.1 382 436C393.7 436.9 395.3 436.8 400 438.5C404.7 440.2 407 442.4 410 446C413 449.6 415.3 455.7 418 460C420.7 464.3 422.7 468.6 426 472C429.3 475.4 434 478.2 438 480.5C442 482.8 439.7 483.5 450 486C460.3 488.5 488 493.1 500 495.5C512 497.9 514 499.9 522 500.5C530 501.1 539.2 501.3 548 499C556.8 496.7 566.3 491.3 575 486.5C583.7 481.7 589.2 476.6 600 470C610.8 463.4 633.3 450.8 640 447" fill="none" stroke="#fff" stroke-width="8.8" stroke-linecap="butt" stroke-linejoin="round"/>
<path class="kw" d="M65.8 347.1 C66.2 345.1 68.9 344.6 70.1 345.9 L75.6 350.2 L72.9 353.4 Z" />
<path class="kw" d="M69.8 358.3 C70.4 351.3 77.1 346.2 84.1 345.9 C87.2 345.9 88.8 346.7 90 347.8 L119.1 370 L116.8 375.4 L112.1 380.1 L76.3 366.1 Z" />
<path class="t" d="M78.7 358.3C79.4 358.1 82 356.5 83.3 356.8C84.6 357 86.2 358.6 86.4 359.9C86.7 361.2 85.1 363.8 84.9 364.6" />
<path class="t" d="M72.4 358.3C73.1 357.4 74.4 354.3 76.3 352.9C78.3 351.5 82.2 350 84.1 349.8C86.1 349.5 82.6 347.3 88 351.3C93.4 355.4 112 370.1 116.8 373.9" />
<path class="t" d="M76.3 362.2C76.9 362 73.5 357.9 79.4 360.7C85.4 363.4 106.7 375.6 112.1 378.6" />
<path class="kw" d="M118.3 368.4 L126.9 364.6 L133.9 363.8 L137.8 368.4 C140.9 370 141.4 377 139.3 380.1 C137 381.7 134.7 380.9 133.9 378.6 L126.1 375.8 L120.7 373.9 Z" />
<ellipse class="k" cx="137.3" cy="374.7" rx="2.2" ry="5"  transform="rotate(-8 137.3 374.7)"/>
<path class="t" d="M126.9 364.6 L128.4 370 L133.9 372.3 L133.9 378.6 M128.4 370 L121.4 372.3" />
<path class="kw" d="M109 363 L116.8 361.4 L119.9 367.7 L112.9 370.8 Z" />
<path class="kw" d="M87.2 364.6 L93.4 362.2 L98.1 365.3 L91.9 368.4 ZM96.6 366.1 L105.9 363.8 L110.6 367.7 L102 370.5 Z" />
<path class="kw" d="M69.3 381.7 L76.3 373.1 L112.1 374.7 L118.3 372.3 L130.8 384 L132.6 389.4 L130.8 394.9 L98.1 405.8 L93.4 428.3 L84.9 428.3 L71.7 421.3 Z" />
<path class="k" d="M77.1 373.9C78.2 375.4 81.7 379.7 83.6 383.2C85.6 386.7 87.7 391.8 88.8 394.9C89.9 398 90.1 400.7 90.3 401.9" />
<path class="t" d="M82.1 374.1C83.2 375.7 86.7 380.2 88.6 383.7C90.6 387.2 92.6 392.3 93.8 395.2C94.9 398.1 95.1 400.3 95.3 401.3" />
<path class="k" d="M87.1 374.4C88.2 376 91.7 380.6 93.6 384.2C95.5 387.7 97.6 392.8 98.7 395.5C99.8 398.3 100 399.8 100.3 400.6" />
<path class="t" d="M92 374.6C93.1 376.3 96.6 381.1 98.6 384.6C100.5 388.2 102.6 393.3 103.7 395.8C104.8 398.4 105 399.3 105.3 400" />
<path class="k" d="M97 374.8C98.1 376.5 101.6 381.5 103.6 385.1C105.5 388.6 107.6 393.7 108.7 396.1C109.8 398.5 110 398.9 110.2 399.4" />
<path class="t" d="M102 375.1C103.1 376.8 106.6 382 108.5 385.6C110.5 389.1 112.6 394.2 113.7 396.4C114.8 398.6 115 398.4 115.2 398.8" />
<path class="k" d="M107 375.3C108.1 377.1 111.6 382.4 113.5 386C115.5 389.6 117.5 394.7 118.6 396.8C119.8 398.8 119.9 397.9 120.2 398.2" />
<path class="t" d="M112 375.5C113 377.4 116.5 382.9 118.5 386.5C120.4 390.1 122.5 395.2 123.6 397.1C124.7 398.9 124.9 397.5 125.2 397.5" />
<path class="t" d="M118.3 373.1C119.1 374.5 122 378.4 123 381.7C124 384.9 124.3 390.7 124.6 392.6" />
<path class="k" d="M112.1 397.2C114.2 396.4 121.2 393.9 124.6 392.6C127.9 391.3 131 390 132.3 389.4" />
<path class="t" d="M105.9 380.1C108 381.1 114.2 385.6 118.3 386.3C122.5 387.1 128.7 385 130.8 384.8" />
<path class="kw" d="M45.2 358.3 L52.2 353.7 L58.4 353.4 L87.2 372.3 L90.3 381.7 L84.1 393.3 L70.1 383.2 L63.9 375.4 L51.4 364.6 Z" />
<path class="k" d="M52.2 353.7 L55.3 358.3 L86.4 380.1 M58.4 353.4 L88.8 373.9 M51.4 364.6 L60.8 362.2 L63.9 375.4" />
<path class="kw" d="M51 358.6 L56.1 356.3 L59.5 359.4 L54.6 361.9 Z" />
<path class="k" d="M53.6 358.3 L56.4 359 L55.8 360.5 L53.3 359.9 Z" style="fill:#555"/>
<path class="kw" d="M60.8 367.7 L65.9 365.3 L69.3 368.4 L64.4 370.9 Z" />
<path class="k" d="M63.4 367.4 L66.2 368 L65.6 369.5 L63.1 368.9 Z" style="fill:#555"/>
<path class="kw" d="M70.1 378.9 L75.2 376.5 L78.7 379.6 L73.7 382.1 Z" />
<path class="k" d="M72.8 378.6 L75.6 379.2 L74.9 380.7 L72.4 380.1 Z" style="fill:#555"/>
<path class="kw" d="M77.9 388.2 L83 385.9 L86.4 389 L81.5 391.5 Z" />
<path class="k" d="M80.5 387.9 L83.3 388.5 L82.7 390.1 L80.2 389.4 Z" style="fill:#555"/>
<path class="kw" d="M31.5 366.9 C31.2 365.8 32 364.9 33.6 364.2 L45.2 359.9 C48.3 359.1 51.4 360.7 53 362.7 L60.5 370 L60 378.2 L58.4 380.4 L46 385.1 C43.7 385.6 41.8 384.5 40.6 382.9 L32.8 373.9 C31.5 372.3 31.5 369.2 31.5 366.9 Z" />
<path class="t" d="M32 367.7 L43.7 376.7 L46 384.8 M43.7 376.7 L60.5 370.5 M34.3 371.6 L42.1 380.9" />
<ellipse class="k" cx="43.7" cy="367.4" rx="1.2" ry="1.2" style="fill:#666"/>
<ellipse class="kw" cx="62.3" cy="401.1" rx="10.3" ry="18.4"  transform="rotate(-10 62.3 401.1)"/>
<ellipse class="t" cx="61.7" cy="401.1" rx="8.1" ry="14.8"  transform="rotate(-10 61.7 401.1)"/>
<ellipse class="k" cx="60.2" cy="400.6" rx="5.3" ry="8.1"  transform="rotate(-8 60.2 400.6)"/>
<ellipse class="k" cx="58.6" cy="400.3" rx="2.3" ry="3.4" style="fill:#444"/>
<path class="kw" d="M70.1 387.9 L76.3 386.3 L87.2 394.1 L89.1 400.3 L88.5 428.3 L77.9 424.4 L71.7 419.8 Z" />
<path class="k" d="M73.2 388.7 L75.1 422.1 M77.1 389.4 L78.7 423.7 M81.8 391.8 L82.9 426 M86 394.9 L86.4 427.6 M70.9 397.2 L88.8 405 M70.9 405 L88.8 412.8 M71.4 412.8 L88.8 420.6 M71.7 419 L88.5 426" />
<path class="kw" d="M92.2 408.4 L98.1 405.3 L143.2 394.1 C147.1 393.8 151 396.4 152.9 400.3 L152.2 413.6 C151.8 415.9 149.4 418.2 146.3 419.8 L133.9 426.8 L100.4 436.1 C97.3 436.4 95 434.6 93.8 430.7 Z" />
<path class="t" d="M92.2 408.4 L98.9 414.3 L152.6 401.1 M98.9 414.3 L99.7 436.1" />
<path class="kw" d="M99.4 410.3 L100.6 406.9 L110.6 404.5 L109.9 408.1 Z" />
<path class="k" d="M102.2 408.3 L107.4 406.9 L107.1 408.3 L102.5 409.4 Z" style="fill:#666"/>
<path class="kw" d="M114.9 405 L116.2 401.6 L126.1 399.2 L125.5 402.8 Z" />
<path class="k" d="M117.7 403 L123 401.6 L122.7 403 L118 404.1 Z" style="fill:#666"/>
<path class="kw" d="M130.8 400.2 L132 396.8 L142 394.4 L141.4 398 Z" />
<path class="k" d="M133.6 398.2 L138.9 396.8 L138.6 398.2 L133.9 399.2 Z" style="fill:#666"/>
<path class="t" d="M93.4 419 L97.3 419.8 M93.8 422.1 L97.8 423 M94.1 425.2 L98.1 426.2" />
<path class="kw" d="M121.8 410.9 L128.4 408.4 L133.9 415.9 C138.6 416.7 140.9 422.1 138.6 425.2 C136.2 427.1 133.1 426 132 423.7 L126.1 422.1 L122.2 417.4 Z" />
<ellipse class="k" cx="136.2" cy="422.1" rx="2.6" ry="4"  transform="rotate(-15 136.2 422.1)"/>
<path class="t" d="M124.6 412 L128.4 410.9 L131.6 415.9" />
<path class="kw" d="M84.9 430.2 L88.8 427.6 L93.8 429.9 L93.8 434.6 L90.3 438 L89.1 440.8 L87.2 440.8 L86.9 437.7 L84.9 435.3 Z" />
<ellipse class="k" cx="89.1" cy="430.2" rx="2.5" ry="1.4" />
<path class="kw" d="M21.7 421.7 L32 422.3 L32.5 434.3 C31.3 436 29 436.7 27.3 436.5 C25 436.3 22.5 435.3 21.3 434 Z" />
<path class="k" d="M21.7 422.3 L24.5 423.3 L24.7 435.5 L21.7 434.2 ZM29.8 423.7 L32.2 422.9 L32.5 434.2 L30 435.8 Z" style="fill:#333"/>
<path class="kw" d="M20.5 418 C21 416.7 22.2 415.8 23.1 415.7 L23.3 409.3 C24 407.8 26.3 407.1 28.3 407.4 C30 407.7 31.1 408.7 31.7 410.9 L51.7 423 C53.3 424 54.7 425.5 54.7 427 C54.5 428.7 53.5 429.8 52.5 430.2 C51.3 430.6 49.8 430.6 49 430.3 L39.7 425.1 L33 421.7 L32 423 C29.7 423.7 25 423.3 21.7 421.8 C20.7 421 20.2 419.3 20.5 418 Z" />
<path class="k" d="M23.1 415.7 C24.3 417 27 418 28.5 418 L33 421.7 M28.5 418 L31.7 410.9 M41.3 419 L39.7 425.1 M44 420.7 L42.3 426.7 M46.7 422.3 L45 428.3 M51 424.3 C50 425.7 49.5 428 49.8 430.3" />
<path class="k" d="M41.5 419.3 L44 420.9 L42.5 426.5 L39.9 425 Z" style="fill:#555;stroke:none"/>
<path class="ld" d="M27.2 438.5V458M70.5 426V509.5H141.8V501M107.7 509.5V522M123.7 470V475.5H161.7V470M141.8 475.5V483"/>
<path d="M233.7 425C234.7 424.7 237.8 422.1 240 423.3C242.2 424.6 245.3 428.1 246.7 432.5C248.1 436.9 247.8 444.9 248.3 450C248.9 455.1 248.6 459.9 250 463.3C251.4 466.8 255.6 469.6 256.7 470.8" fill="none" stroke="#1a1a1a" stroke-width="4.7" stroke-linecap="butt" stroke-linejoin="round"/><path d="M233.7 425C234.7 424.7 237.8 422.1 240 423.3C242.2 424.6 245.3 428.1 246.7 432.5C248.1 436.9 247.8 444.9 248.3 450C248.9 455.1 248.6 459.9 250 463.3C251.4 466.8 255.6 469.6 256.7 470.8" fill="none" stroke="#fff" stroke-width="1.5" stroke-linecap="butt" stroke-linejoin="round"/>
<path class="kw" d="M230 439.2 L234.2 425 L240 426.7 L245.8 435.8 L246.7 453.3 L240 455.8 L233.3 451.7 L229.2 445 Z" />
<path class="t" d="M234.2 432.5 L240 435.8 L240 443.3 L233.3 441.7 M240 443.3 L245.8 441.7 M237.5 430 L238.3 435.8 M234.2 447.5 L240 450 L240 455.8" />
<path d="M323.3 360C321.1 363.3 315.6 372.5 310 380C304.4 387.5 296.9 397.8 290 405C283.1 412.2 274 417.2 268.3 423.3C262.6 429.4 258.4 436.1 255.8 441.7C253.3 447.2 252.7 452.2 253 456.7C253.3 461.2 256.8 466.7 257.5 468.7" fill="none" stroke="#1a1a1a" stroke-width="4.9" stroke-linecap="butt" stroke-linejoin="round"/><path d="M323.3 360C321.1 363.3 315.6 372.5 310 380C304.4 387.5 296.9 397.8 290 405C283.1 412.2 274 417.2 268.3 423.3C262.6 429.4 258.4 436.1 255.8 441.7C253.3 447.2 252.7 452.2 253 456.7C253.3 461.2 256.8 466.7 257.5 468.7" fill="none" stroke="#fff" stroke-width="1.7" stroke-linecap="butt" stroke-linejoin="round"/>
<path d="M256.7 468.7C260.8 470.6 273.3 476.1 281.7 480C290 483.9 301 488.7 306.7 492C312.4 495.3 314.9 497.4 315.8 499.7C316.8 502 314.9 504.7 312.5 505.8C310.1 507 305.4 507.3 301.7 506.7C297.9 506 291.9 502.8 290 502" fill="none" stroke="#1a1a1a" stroke-width="7.2" stroke-linecap="butt" stroke-linejoin="round"/><path d="M256.7 468.7C260.8 470.6 273.3 476.1 281.7 480C290 483.9 301 488.7 306.7 492C312.4 495.3 314.9 497.4 315.8 499.7C316.8 502 314.9 504.7 312.5 505.8C310.1 507 305.4 507.3 301.7 506.7C297.9 506 291.9 502.8 290 502" fill="none" stroke="#fff" stroke-width="4.1" stroke-linecap="butt" stroke-linejoin="round"/>
<path class="k" d="M254.7 466.7 L259.2 470.8" />
<path class="kw" d="M270 492.5 L276.7 487.5 L290 490.8 L294.7 496.7 L292.5 502.5 L285 505.3 L273.3 500 Z" />
<path class="t" d="M276.7 487.5 L280 495 L285 505.3 M280 495 L290 490.8 M272.5 493.3 L275 498.3 M285.8 498.3 L291.7 497.5" />
<path class="kw" d="M322.5 358.3 L329.2 346.7 L336.7 344.2 L345 346.7 L345.8 358.3 L338.3 366.7 L326.7 365 Z" />
<path class="t" d="M322.5 358.3 L336.7 360 L345 346.7 M336.7 360 L338.3 366.7 M326.7 361.7 L331.7 362.5 M330 350 L335.8 351.7 L338.3 347.5" />
<path class="kw" d="M203.3 467 L210 462.7 L217.5 466 L230 461.7 L251.7 475 L251 481 L257 485 L257.5 491 L246.7 496.7 L243 492.7 L228.7 493.7 L208.3 480.3 L207.5 472 Z" />
<path class="t" d="M207.5 472 L215 469.2 L217.5 466 M208.3 480.3 L228.7 488.3 L251 481 M228.7 488.3 L228.7 493.7 M243 492.7 L245 486.7 L257 485 M215 469.2 L230 478.3 L245 474.2 M220.8 470.8 L230.8 465.8 M223.3 473.3 L233.7 467.5 M225.8 475.3 L236.7 469.7 M228.7 477 L239.2 471.7 M231.7 479.2 L242 478.3 M210.8 470 L213.3 471.7" />
<ellipse class="t" cx="248.3" cy="485.3" rx="1.3" ry="1.3"/>
<path class="ld" d="M239.2 494.5V522.5M295.3 509.5V522.5M370 445V482.5"/>
<path class="kw" d="M444 348.7 L453.3 342 L458.7 343.7 L458.9 360 L456.3 364.3 L453.3 372 L456.3 384 L458.9 400 L458.9 416 L453.6 421.6 L445.6 422.9 L442.7 418.9 L426.7 394.9 L434.7 382.7 L443.3 373.3 Z" />
<ellipse class="k" cx="450.7" cy="351.5" rx="1.7" ry="2.1"/>
<ellipse class="k" cx="451.5" cy="412.8" rx="1.5" ry="1.9"/>
<path class="t" d="M443.3 373.3 L452 371.3 M445.3 394.7 L448 400 L448.7 420 M458.9 400 L448 400 M440 392 L445.3 394.7" />
<path class="kw" d="M450.9 331.3 C451.3 329.6 454.4 329.6 454.9 331.3 L455.5 342 L452 343.3 Z" />
<path class="kw" d="M456 364.7 L459.3 363.3 L468.7 369.6 C470.9 371.3 470.4 374.7 467.7 375.3 L458 372.3 L453.3 372 Z" />
<ellipse class="k" cx="468.3" cy="372.7" rx="1.3" ry="2.4" transform="rotate(-25 468.3 372.7)"/>
<path class="kw" d="M393.3 373.3 C392 360 398.7 346.7 413.3 339.3 L422.7 337.3 L434.7 364 L404 381.3 Z" />
<path class="k" d="M394.9 364C395.2 362.7 395.4 358.7 396.7 356C398 353.3 400.1 350.2 402.7 348C405.2 345.8 410.4 343.6 412 342.7" />
<path class="t" d="M398 365.3C398.2 364.1 398.2 360.3 399.3 358C400.4 355.7 402.3 353.3 404.7 351.3C407 349.3 411.9 346.9 413.3 346" />
<path class="g" d="M405.3 361.3C406.2 360.9 408.9 358.9 410.7 358.7C412.4 358.4 413.3 359.3 416 360C418.7 360.7 424.9 362.2 426.7 362.7" />
<path class="kw" d="M422.7 330.4 L429.3 326.7 L452 337.3 L458.7 343.7 L445.3 350.9 L413.3 339.3 Z" />
<path class="k" d="M426.7 328.3 L420 336.5" />
<path class="k" d="M430.3 329.9 L423.6 338.1" />
<path class="k" d="M433.9 331.5 L427.2 339.7" />
<path class="k" d="M437.5 333.1 L430.8 341.3" />
<path class="k" d="M441.1 334.7 L434.4 342.9" />
<path class="k" d="M444.7 336.3 L438 344.5" />
<path class="k" d="M448.3 337.9 L441.6 346.1" />
<path class="k" d="M413.3 339.3 L411.3 343.7 L440 354.9 L445.3 350.9 M411.3 343.7 L409.3 347.3 L438.7 359.3 L440 354.9" />
<path class="t" d="M414.7 341.3 L411.7 348.7" />
<path class="t" d="M419.2 343.1 L416.3 350.4" />
<path class="t" d="M423.7 344.8 L420.8 352.1" />
<path class="t" d="M428.3 346.5 L425.3 353.9" />
<path class="t" d="M432.8 348.3 L429.9 355.6" />
<path class="t" d="M437.3 350 L434.4 357.3" />
<path class="k" d="M426 331.3 L430.7 333.3 L429.3 335.7 L425.1 333.9 Z" />
<path class="kw" d="M398.7 360 L404.7 355.3 L406.9 357.6 L406.7 362.7 L400.7 365.1 L398.7 363.3 ZM404.7 350 L409.6 346.7 L412 348.7 L406.7 352.7 ZM390 373.3 L395.3 370.7 L397.1 373.3 L392 376 Z" />
<path class="kw" d="M367.3 380.3 C366.9 378.7 368 377.3 370 376.3 L384 368.7 L390 371.3 L394.9 373.3 L405.3 364 L424 362.7 L434.7 369.3 L440 373.3 L445.3 376 L440 382.7 L429.3 394.7 L418.7 392 L413.3 390.7 L392.7 401.6 L381.6 397.1 L368.3 384.3 Z" />
<path class="t" d="M384 368.7 L380 378.7 L381.6 397.1 M380 378.7 L390 371.3 M380 378.7 L392.7 382.7 L392.7 401.6 M392.7 382.7 L405.3 373.3 L405.3 364 M405.3 373.3 L416 378.7" />
<path class="g" d="M416 360 L417.3 373.3 L429.3 377.3 L429.3 364 M429.3 377.3 L434.7 382.7" />
<path class="k" d="M381.3 386.7 L381.6 394.7 L383.3 395.3 L382.9 387.3 Z" />
<path class="kw" d="M409.1 372.3 L412.3 370.4 L436.7 387.3 C438.9 389.1 438 393.1 435.3 393.6 L408 377.3 Z" />
<ellipse class="k" cx="436" cy="390.7" rx="2.1" ry="3.3" transform="rotate(-25 436 390.7)"/>
<path class="kw" d="M438.4 375.3 C438.9 372.7 443.3 372.3 445.3 374.7 C446.7 377.1 445.3 381.1 442.4 381.6 C439.7 381.6 437.9 378.4 438.4 375.3 Z" />
<path class="t" d="M453.3 372C453.7 373.1 454.8 376.2 455.3 378.7C455.8 381.1 456.1 385.3 456.3 386.7" />
<path class="t" d="M445.3 370.7C446.2 371.1 449.3 371.6 450.7 373.3C452 375.1 452.4 378.7 453.3 381.3C454.2 384 455.6 388 456 389.3" />
<path class="ld" d="M441.7 312V330M416 332L442.5 346M452 352L475 365"/>
<path class="kw" d="M527.5 351.7 L538.3 345.8 L550 351.7 L552 380 L540.8 386.7 L539.2 358.3 Z" />
<path class="t" d="M539.2 358.3 L550 351.7" />
<ellipse class="k" cx="538.3" cy="351.3" rx="1.5" ry="1"/>
<path class="k" d="M606.7 377 L618 373.7 L618.7 388.3 L607.5 392 ZM610 380 L615.8 378.3 L615.8 386.7 L612.5 387.5 L612.5 381.7 L610 382.5 Z" />
<path class="kw" d="M521.7 393.3 L521.7 425 L506.7 435 L505.8 443.3 L509.2 445.3 L521.7 438.7 L522.5 465.3 L525.8 467 L535.8 460.8 L535.8 443.3 L550 438.3 L586.7 417.2 L621.7 397.8 L621.2 362.2 L588.8 378.8 L540 386.7 Z" />
<path class="k" d="M527.5 428.7 L540 423.7 L542 436.7 L528.7 442.7 ZM531.7 431.7 L538.3 429.2 L538.7 432.5 L533.7 434.2 L533.7 436.7 L539.2 435.3" />
<path class="kw" d="M550.8 415.3 L571.7 412.7 L580 406 L585.3 411.7 L583.3 422 L573.3 428.7 L553.3 429.5 L550.8 425.3 Z" />
<path class="t" d="M550.8 415.3 L552 420 L573.3 420 L583.3 412.5 M573.3 420 L573.3 428.7 M554.2 423.3 L556.7 423.3 M568.3 423.3 L571.7 423" />
<path class="kw" d="M509.2 388.3 L520.8 393.3 L521.7 407 L510 402 Z" />
<ellipse class="k" cx="515.0" cy="396.7" rx="1.6" ry="2"/>
<path class="kw" d="M521.7 391.3 L535 387.7 L578.3 366.7 L577 363.3 L565.3 337 L566.7 328.7 L578.3 322 L583.3 325 L590.8 330.3 L591.7 350 L595.3 355.3 L636.7 333.7 L650 313.3 L660 308.3 L666.7 330 L650 345.3 L586.7 377 L523.3 415.3 Z" />
<path class="t" d="M523.3 411.7 L586.7 373.7 L650 341.7 M586.7 377 L586.7 413.3 L584.2 413.3 L584.2 380" />
<path class="t" d="M566.7 328.7 L571.7 330 L573.3 336.7 L586.7 363.3 L588.3 375 M578.3 322 L580 327.5 L571.7 330 M580 327.5 L581.7 335 L591.7 350" />
<path class="g" d="M569.2 330 L570.8 336.7 L584.2 365" />
<ellipse class="k" cx="607" cy="357" rx="2" ry="2.5" transform="rotate(30 607 357)"/>
<ellipse class="k" cx="540.8" cy="394.2" rx="1.7" ry="2.3" transform="rotate(30 540.8 394.2)"/>
<path class="kw" d="M560.8 303.7 C561.7 300 565 298 566.7 297.5 L583.3 289.2 C586.7 288.3 588.7 290.8 588.7 293.7 L589.2 308.3 L568.7 320.3 L562 317.7 Z" />
<path class="t" d="M571.7 302.5 L572 315.8" />
<path class="t" d="M574.5 301 L574.8 314.3" />
<path class="t" d="M577.3 299.5 L577.7 312.8" />
<path class="t" d="M580.2 298 L580.5 311.3" />
<path class="t" d="M583 296.5 L583.3 309.8" />
<path class="t" d="M585.8 295 L586.2 308.3" />
<path class="t" d="M562 317.7C562.5 316.9 564.4 315.7 565 313.3C565.6 310.9 565.6 306 565.8 303.3C566.1 300.7 566.5 298.5 566.7 297.5" />
<path fill="#fff" stroke="none" d="M590 356.7 L596.7 353.7 L636.7 332 L652 305 L660 298.3 L668.3 294.2 L671.7 295.8 L672.5 346.7 L668.7 356.7 L653.7 362.8 L638.3 355 L621.7 363.7 L620.8 376.7 L590 390 Z"/>
<path class="k" d="M590 356.7 L596.7 353.7 L636.7 332 L652 305 L660 298.3 L668.3 294.2 L671.7 295.8 L672.5 346.7 L668.7 356.7 L653.7 362.8 L638.3 355 L621.7 363.7 L621.3 373.3" />
<path class="t" d="M590 378.3 L656.7 340 L658.3 333.3 M656.7 306.7 L656.7 313.3 M656.7 340 L670 335 M590 375 L655.8 337.5" />
<path class="g" d="M655 341.7 L591.7 376.7" />
<ellipse class="k" cx="664.5" cy="307.5" rx="1.7" ry="2.2" transform="rotate(30 664.5 307.5)"/>
<ellipse class="k" cx="664.5" cy="334.2" rx="1.7" ry="2.2" transform="rotate(30 664.5 334.2)"/>
<ellipse class="k" cx="607" cy="356.7" rx="1.8" ry="2.5" transform="rotate(30 607 356.7)"/>
<path class="k" d="M663.3 316.7C662.4 317.1 658.6 317.8 657.5 319.2C656.4 320.6 656 323.6 656.7 325C657.4 326.4 660.8 327.1 661.7 327.5" />
<ellipse class="k" cx="663.3" cy="321.7" rx="2.3" ry="3"/>
<path class="k" d="M663.3 343.3C662.4 343.8 658.6 344.4 657.5 345.8C656.4 347.2 656 350.3 656.7 351.7C657.4 353.1 660.8 353.8 661.7 354.2" />
<ellipse class="k" cx="663.3" cy="348.3" rx="2.3" ry="3"/>
<path class="k" d="M608.3 378.3 L617.5 375 L618.3 390 L609.2 390 ZM611.7 381.7 L615.8 380.3 L615.8 390" />
<path class="ld" d="M661.3 277.5V296M666 309L697 325.5M573.3 280V292M617.5 284.5V317L600.8 326.7V350M541.7 394.2L600 425"/>
<path class="ld" stroke-dasharray="9 2" style="stroke:#666" d="M538.5 284V350"/>
<path class="ld" d="M505 383.5L513 389M503 402L516 396"/>
<path d="M643.9 447.8C646 447.6 653.1 446.4 656.7 446.7C660.3 446.9 664.3 447.6 665.6 449.4C666.9 451.3 665.9 455.6 664.4 457.8C663 460 658 461.9 656.7 462.8" fill="none" stroke="#1a1a1a" stroke-width="4.9" stroke-linecap="butt" stroke-linejoin="round"/><path d="M643.9 447.8C646 447.6 653.1 446.4 656.7 446.7C660.3 446.9 664.3 447.6 665.6 449.4C666.9 451.3 665.9 455.6 664.4 457.8C663 460 658 461.9 656.7 462.8" fill="none" stroke="#fff" stroke-width="1.7" stroke-linecap="butt" stroke-linejoin="round"/>
<path d="M645.6 451.1C646.3 451.9 649.1 453.7 650 455.6C650.9 457.4 650.9 461.1 651.1 462.2" fill="none" stroke="#1a1a1a" stroke-width="4.5" stroke-linecap="butt" stroke-linejoin="round"/><path d="M645.6 451.1C646.3 451.9 649.1 453.7 650 455.6C650.9 457.4 650.9 461.1 651.1 462.2" fill="none" stroke="#fff" stroke-width="1.3" stroke-linecap="butt" stroke-linejoin="round"/>
<path d="M641.7 437.8C642.2 436.3 643.9 432 645 428.9C646.1 425.7 647 421.5 648.3 418.9C649.6 416.3 652 414.3 652.8 413.3" fill="none" stroke="#1a1a1a" stroke-width="5.5" stroke-linecap="butt" stroke-linejoin="round"/><path d="M641.7 437.8C642.2 436.3 643.9 432 645 428.9C646.1 425.7 647 421.5 648.3 418.9C649.6 416.3 652 414.3 652.8 413.3" fill="none" stroke="#fff" stroke-width="2.3" stroke-linecap="butt" stroke-linejoin="round"/>
<path d="M640.6 442.2C642.7 439.8 649.4 432 653.3 427.8C657.3 423.5 661.5 419.4 664.4 416.7C667.4 414 670 412.5 671.1 411.7" fill="none" stroke="#1a1a1a" stroke-width="5.5" stroke-linecap="butt" stroke-linejoin="round"/><path d="M640.6 442.2C642.7 439.8 649.4 432 653.3 427.8C657.3 423.5 661.5 419.4 664.4 416.7C667.4 414 670 412.5 671.1 411.7" fill="none" stroke="#fff" stroke-width="2.3" stroke-linecap="butt" stroke-linejoin="round"/>
<path d="M642.2 445.6C644.6 445 652.6 443.1 656.7 442.2C660.7 441.4 664 441.3 666.7 440.6C669.4 439.8 671.8 438.2 672.8 437.8" fill="none" stroke="#1a1a1a" stroke-width="5" stroke-linecap="butt" stroke-linejoin="round"/><path d="M642.2 445.6C644.6 445 652.6 443.1 656.7 442.2C660.7 441.4 664 441.3 666.7 440.6C669.4 439.8 671.8 438.2 672.8 437.8" fill="none" stroke="#fff" stroke-width="1.9" stroke-linecap="butt" stroke-linejoin="round"/>
<path class="kw" d="M648.7 412.2 C649.1 408.9 651.1 406.7 653.3 405.1 L667.8 396.9 L668.9 394.2 L672.2 394 L673.6 396.7 L688.9 391.8 C691.1 391.1 694.4 392.8 696.2 395.1 L696.7 409.6 L693.6 411.8 L677.8 417.3 L673.3 414.7 L656.7 417.8 Z" />
<path class="t" d="M673.6 396.7 L668.9 402.2 L677.8 417.3 M653.3 405.1 L657.8 407.8 L667.8 402.2 L673.6 396.7 M692.2 392.2 L692.8 411.1 L696.7 409.6 M688.9 391.8 L692.8 394.4" />
<ellipse class="kw" cx="653.3" cy="411.1" rx="4.7" ry="5.8" transform="rotate(15 653.3 411.1)"/>
<path class="k" d="M650 407.8C650.6 407.5 652.1 406 653.3 406.1C654.5 406.2 656.5 407.1 657.2 408.3C658 409.5 657.7 412.5 657.8 413.3" style="stroke-width:2.6"/>
<ellipse class="k" cx="653.3" cy="411.7" rx="2.9" ry="4" transform="rotate(15 653.3 411.7)"/>
<ellipse class="kw" cx="672.2" cy="409.1" rx="4.7" ry="5.8" transform="rotate(15 672.2 409.1)"/>
<path class="k" d="M668.9 405.6C669.4 405.3 671 403.8 672.2 403.9C673.4 404 675.3 404.9 676.1 406.1C676.9 407.3 676.8 410.3 676.9 411.1" style="stroke-width:2.6"/>
<ellipse class="k" cx="672.2" cy="409.6" rx="2.9" ry="4" transform="rotate(15 672.2 409.6)"/>
<path d="M645 428.9C645.6 427.2 647 421.6 648.3 418.9C649.6 416.2 652 413.8 652.8 412.8" fill="none" stroke="#1a1a1a" stroke-width="5.5" stroke-linecap="butt" stroke-linejoin="round"/><path d="M645 428.9C645.6 427.2 647 421.6 648.3 418.9C649.6 416.2 652 413.8 652.8 412.8" fill="none" stroke="#fff" stroke-width="2.3" stroke-linecap="butt" stroke-linejoin="round"/>
<path d="M653.3 427.8C655.2 425.9 661.4 419.4 664.4 416.7C667.5 413.9 670.5 412 671.7 411.1" fill="none" stroke="#1a1a1a" stroke-width="5.5" stroke-linecap="butt" stroke-linejoin="round"/><path d="M653.3 427.8C655.2 425.9 661.4 419.4 664.4 416.7C667.5 413.9 670.5 412 671.7 411.1" fill="none" stroke="#fff" stroke-width="2.3" stroke-linecap="butt" stroke-linejoin="round"/>
<path class="kw" d="M652.2 437.8 L656.7 429.1 L666.7 426.7 L669.1 428.9 L669.4 441.3 L653.3 440.6 Z" />
<path class="kw" d="M669.1 428.9 C670 426.7 671.7 425 673.3 424.4 L691.1 418.4 C694.4 417.8 697.8 418.3 699.4 420.6 C700.6 422.2 700.7 423.9 700.4 425.6 L700 432.2 C699.4 434.4 697.8 435.6 696.7 435.8 L676.7 446.9 C674.4 447.2 672.2 446.1 671.1 444.4 C670 443.3 669.6 442.2 669.4 441.3 Z" />
<path class="k" d="M673.3 424.4C674.1 425 676.9 425.6 677.8 427.8C678.7 430 679.1 434.6 678.9 437.8C678.7 441 677 445.4 676.7 446.9" />
<path class="t" d="M691.1 418.4C690.8 419.4 689.6 422.1 689.4 424.4C689.3 426.7 689.5 430 690 432.2C690.5 434.4 691.9 436.9 692.2 437.8" />
<path class="kw" d="M682.2 436.9 L691.1 433.6 L691.8 437.8 L683.6 442.2 Z" />
<path d="M656.7 442.8C658.3 442.4 663.9 441.4 666.7 440.6C669.4 439.7 672 438.2 673.1 437.8" fill="none" stroke="#1a1a1a" stroke-width="5" stroke-linecap="butt" stroke-linejoin="round"/><path d="M656.7 442.8C658.3 442.4 663.9 441.4 666.7 440.6C669.4 439.7 672 438.2 673.1 437.8" fill="none" stroke="#fff" stroke-width="1.9" stroke-linecap="butt" stroke-linejoin="round"/>
<path class="kw" d="M639.1 472.4 C638.7 470.6 640.6 468.3 642.2 467.8 L646.7 462.4 L652.2 460.2 L655.8 464.4 L654.7 472.2 L647.8 475.8 L640.7 476.9 Z" />
<path class="k" d="M642.2 467.8 L643.9 475.6 M646.7 462.4 L648.3 468.9 L654.7 472.2 M648.3 468.9 L643.9 470.6 M652.2 460.2 L651.7 465.6" />
<path d="M590 478.9C590.4 480.1 591.8 483.6 592.7 486C593.6 488.4 594.3 491.5 595.3 493.1C596.4 494.7 597.7 495.6 598.9 495.8C600.1 495.9 601.9 494.3 602.4 494" fill="none" stroke="#1a1a1a" stroke-width="4.5" stroke-linecap="butt" stroke-linejoin="round"/><path d="M590 478.9C590.4 480.1 591.8 483.6 592.7 486C593.6 488.4 594.3 491.5 595.3 493.1C596.4 494.7 597.7 495.6 598.9 495.8C600.1 495.9 601.9 494.3 602.4 494" fill="none" stroke="#fff" stroke-width="1.3" stroke-linecap="butt" stroke-linejoin="round"/>
<path class="kw" d="M597.1 489.1 C597.6 487.3 598.9 486.4 600.7 486 L606.4 483.3 L614 482.4 C615.3 482.9 616.2 484.2 616.7 487.8 L616 496.7 L608.2 502 L602 504 C599.8 503.8 598.2 501.1 597.8 499.3 Z" />
<path class="k" d="M606.4 483.3 L607.8 492.2 L608.2 502 M607.8 492.2 L616 490.4 M611.3 484.2 L612.2 498.4 M614 483.3 L615.1 497.1" />
<path class="k" d="M611.8 484.7 L614.7 484 L615.6 496.7 L612.7 498.3 Z" style="fill:#444;stroke:none"/>
<ellipse class="k" cx="599.8" cy="492.2" rx="2.7" ry="4" transform="rotate(-10 599.8 492.2)"/>
<path class="kw" d="M649.4 488.2 L654 486.5 C655.8 486.2 657.4 487.8 657.6 489.4 L657.2 494 L651.5 497.7 Z" />
<path class="kw" d="M616.8 507.8 C617.1 506.9 618 506.4 618.9 506.3 L625.6 503.8 L629.8 505.7 L630.2 512.8 L621.3 518.5 C619.3 518.9 617.4 517.6 617.1 516.2 Z" />
<path class="kw" d="M625.4 497.1 C625.6 495.8 626.4 494.9 627.3 494.4 L642.6 486 C644.2 485.3 646 485.8 647.3 486.9 L649.7 488.8 C650.4 490 650.6 491.3 650.4 492.4 L649.3 509.1 L632.8 519.1 C631.3 519.6 629.6 518.9 628.7 518.4 L626.6 516.4 Z" style="stroke-width:2"/>
<path class="t" d="M627.3 496.7 L631.8 499.3 L632.8 519.1 M631.8 499.3 L649.7 490" />
<path class="k" d="M636.2 499.5 L644.4 495.8 L645.6 505.6 L638.2 510.5 Z" style="fill:#555"/>
<path class="k" d="M638.4 499.8 L639.3 509.8 M640.8 498.6 L641.7 508.4 M643.2 497.4 L644 506.9" style="stroke:#fff;stroke-width:0.8"/>
<path class="k" d="M632 502.4 L633.4 503.1 M632.1 504.7 L633.6 505.3 M632.3 506.9 L633.7 507.5 M632.5 509.1 L633.9 509.7" />
<path class="t" d="M618.9 508.2 C618.3 510 618.4 514.4 619.8 517.1" />
<path d="M471.3 485.3C473.6 484.8 479.3 482.9 484.7 482.4C490 481.9 498.2 481.5 503.3 482.1C508.4 482.7 512.7 484.5 515.3 486C518 487.5 519.2 489.5 519.1 490.9C519 492.3 517.3 494.1 514.7 494.4C512 494.7 507.4 493.6 503.3 492.7C499.2 491.7 492.2 489.3 490 488.7" fill="none" stroke="#1a1a1a" stroke-width="4.7" stroke-linecap="butt" stroke-linejoin="round"/><path d="M471.3 485.3C473.6 484.8 479.3 482.9 484.7 482.4C490 481.9 498.2 481.5 503.3 482.1C508.4 482.7 512.7 484.5 515.3 486C518 487.5 519.2 489.5 519.1 490.9C519 492.3 517.3 494.1 514.7 494.4C512 494.7 507.4 493.6 503.3 492.7C499.2 491.7 492.2 489.3 490 488.7" fill="none" stroke="#fff" stroke-width="1.5" stroke-linecap="butt" stroke-linejoin="round"/>
<path d="M504 502.7C505.3 503.7 509.8 505.7 512 508.7C514.2 511.7 515.9 516.9 517.3 520.7C518.8 524.4 519.7 529 520.7 531.3C521.7 533.7 522.9 534.1 523.3 534.7" fill="none" stroke="#1a1a1a" stroke-width="6.5" stroke-linecap="butt" stroke-linejoin="round"/><path d="M504 502.7C505.3 503.7 509.8 505.7 512 508.7C514.2 511.7 515.9 516.9 517.3 520.7C518.8 524.4 519.7 529 520.7 531.3C521.7 533.7 522.9 534.1 523.3 534.7" fill="none" stroke="#fff" stroke-width="3.3" stroke-linecap="butt" stroke-linejoin="round"/>
<path d="M523.3 533.3C522.8 534.6 520.8 538.1 520 540.7C519.2 543.2 518.4 546.1 518.7 548.7C518.9 551.2 519.9 554.6 521.3 556C522.8 557.4 525.9 557.9 527.3 557.3C528.8 556.8 529.6 553.4 530 552.7" fill="none" stroke="#1a1a1a" stroke-width="4.7" stroke-linecap="butt" stroke-linejoin="round"/><path d="M523.3 533.3C522.8 534.6 520.8 538.1 520 540.7C519.2 543.2 518.4 546.1 518.7 548.7C518.9 551.2 519.9 554.6 521.3 556C522.8 557.4 525.9 557.9 527.3 557.3C528.8 556.8 529.6 553.4 530 552.7" fill="none" stroke="#fff" stroke-width="1.5" stroke-linecap="butt" stroke-linejoin="round"/>
<path d="M521.3 532.9C522.2 532.8 524.8 532.7 526.7 532.4C528.6 532.1 531.7 531.3 532.7 531.1" fill="none" stroke="#1a1a1a" stroke-width="4.5" stroke-linecap="butt" stroke-linejoin="round"/><path d="M521.3 532.9C522.2 532.8 524.8 532.7 526.7 532.4C528.6 532.1 531.7 531.3 532.7 531.1" fill="none" stroke="#fff" stroke-width="1.3" stroke-linecap="butt" stroke-linejoin="round"/>
<path class="kw" d="M528.3 523.6 L540 515.3 C542.7 514.3 545.3 516 546.4 518.3 L549.3 523.3 L548.8 532.7 L545.6 535.6 L548.8 543.3 L549.3 558.3 L537.6 567.6 L532 566.3 L525.6 562.3 L528.3 554 L528.8 543.3 L527.3 530 Z" />
<path class="t" d="M540 515.3 L534.9 522.7 L536 534 L545.6 535.6 M534.9 522.7 L528.3 523.6 M536 534 L528.8 535.3 M536 543.3 L548.8 543.3 M536 543.3 L537.6 567.6 M528.8 543.3 L536 543.3 M540 546 L545.3 546.7 M530 526 L532.7 530" />
<ellipse class="k" cx="542.7" cy="518.7" rx="0.8" ry="0.8"/>
<path d="M452.9 493.3C451.9 494.9 448.8 499.8 446.7 502.7C444.5 505.5 442.6 508.8 440 510.4C437.4 512 433.7 512.6 431.3 512.3C429 511.9 426.2 509.8 425.7 508.3C425.3 506.8 426.8 504.2 428.7 503.3C430.5 502.4 434.1 502.4 436.7 502.9C439.2 503.5 442.1 505 444 506.7C445.9 508.3 447.3 511.7 448 512.7" fill="none" stroke="#1a1a1a" stroke-width="4.7" stroke-linecap="butt" stroke-linejoin="round"/><path d="M452.9 493.3C451.9 494.9 448.8 499.8 446.7 502.7C444.5 505.5 442.6 508.8 440 510.4C437.4 512 433.7 512.6 431.3 512.3C429 511.9 426.2 509.8 425.7 508.3C425.3 506.8 426.8 504.2 428.7 503.3C430.5 502.4 434.1 502.4 436.7 502.9C439.2 503.5 442.1 505 444 506.7C445.9 508.3 447.3 511.7 448 512.7" fill="none" stroke="#fff" stroke-width="1.5" stroke-linecap="butt" stroke-linejoin="round"/>
<path class="kw" d="M444.4 509.6 L454 512 L450 517.6 L447.1 516.7 Z" />
<path class="k" d="M446 511.3 L450 516 M448 510.7 L452 514.7" />
<path class="kw" d="M450 517.6 L454 512 L468.7 504.8 C470.7 504.3 472 505.1 472.9 506 L482.7 513.3 L482.8 522.7 L466 532.3 L462.8 531.5 L450 523.5 Z" />
<path class="k" d="M463.3 525.6 C464 523.7 465.3 522.9 466.3 522.7 L482 514.7 M463.3 525.6 L462.8 531.5 M454 512 L463.3 525.6" />
<path class="g" d="M466 528 L480.7 520" />
<path class="kw" d="M574.7 512 L593.3 504.7 C595.3 504 597.1 505.7 597.6 507.3 L598.1 547.3 L580 556.9 L577.3 530 Z" />
<path class="k" d="M580 520.7 L597.6 512.4" />
<path class="k" d="M580 528.7 L597.6 520.4" />
<path class="k" d="M580 536.7 L597.6 528.4" />
<path class="k" d="M580 544.7 L597.6 536.4" />
<path class="k" d="M580 552.7 L597.6 544.4" />
<path class="t" d="M585.3 530 L588 528.7 L588 532.7" />
<path class="kw" d="M564 516.7 C564.3 514 566.7 512.4 568.7 512.7 L574.7 514 C578 515.3 580 518 580.3 520.9 L580.3 564.7 C579.7 567.1 578 568.1 576 568.1 L572.7 566.8 L572.7 538 L565.3 530 Z" style="stroke-width:1.9"/>
<path class="g" d="M574.7 516.7 L575.3 566" />
<path class="kw" d="M557.3 528 C557.6 525.7 559.3 524.4 561.3 524 L572 521.5 L572.7 538 L562.9 541.5 C560 541.7 558.1 539.3 557.9 536.9 Z" />
<ellipse class="k" cx="561.3" cy="532.9" rx="2.7" ry="5.6" transform="rotate(-5 561.3 532.9)"/>
<path class="kw" d="M553.3 548 C553.6 546 555.3 544.9 557.3 544.7 L572.7 541.5 L572.7 566.8 L561.6 571.6 C558.7 572 554 570 553.3 567.6 Z" />
<path class="t" d="M559.7 546C560 547.1 561.2 549.6 561.6 552.7C562 555.8 562 561.5 562 564.7C562 567.8 561.7 570.4 561.6 571.6" />
<path class="t" d="M565.3 534 L568 533.3 M566 540.7 L569.3 539.6" />
<path class="ld" d="M575.7 569V582M660.5 491.7H683.5"/>
<path class="kw" d="M776.7 546.7 L790 565 L796.7 571.7 L796.7 660 L807.5 655 L807.5 656.2 L790 668.3 L790 624.2 L785.8 623.3 L785.8 611.7 L777.5 598.3 L776.7 591.7 L773.3 590 L767.5 579.2 L761.7 575.8 L766.7 567.5 Z" />
<path class="t" d="M796.7 660 L790 664.2" />
<path class="g" d="M786.7 578.3 L786.7 610" />
<path class="kw" d="M711.7 593.3 L710.8 606.7 L708.3 610 L706.7 633.3 L700 635.3 L691.7 630.8 L687.5 623.3 L696.7 603.3 Z" />
<path class="g" d="M696.7 618.3 L705.8 613.3 M693.3 623.3 L705 621.7" />
<path fill="#fff" stroke="none" d="M620 582L720 520.3L751.7 523.3L761.7 527L776.7 546.7L790 565L766.7 567L741.7 571.7L716.7 580L706.7 588.7L693.3 603.3L683.3 623.3L676.7 640L661.7 628.3L613.3 640L613.3 610.3L631.7 598.3L635 590L630.8 596.3L620 590.3Z"/>
<path class="k" d="M613.3 640L613.3 610.3L631.7 598.3M630.8 596.3L620 590.3L620 582L720 520.3L751.7 523.3L761.7 527L776.7 546.7" />
<path class="k" d="M676.7 640C677.8 637.2 680.6 629.4 683.3 623.3C686.1 617.2 690.6 608.1 693.3 603.3C696.1 598.6 696.4 598.6 700 595C703.6 591.4 708.9 585.4 715 581.7C721.1 577.9 728.9 574.9 736.7 572.5C744.4 570.1 756.6 568.5 761.7 567.5C766.7 566.5 766.1 566.8 767 566.7" />
<path class="k" d="M682.5 640C683.8 637.2 687.1 629.1 690 623.3C692.9 617.6 697.8 608.9 700 605.3C702.2 601.8 700.6 604.6 703.3 602C706.1 599.4 710.6 593.7 716.7 590C722.8 586.3 732.5 582.4 740 580C747.5 577.6 758.1 576.5 761.7 575.8" />
<path class="k" d="M766.7 568 L780 573.3 L786.7 575.8 L787.7 582.5" />
<path class="g" d="M761.7 567.5 L762 575.3" />
<path class="k" d="M631.7 598.3L670 577.5L755 525.8" />
<path class="k" d="M620 582 L620 590.3 L630.8 596.3" />
<ellipse class="k" cx="711.7" cy="538.7" rx="5.3" ry="2.7"/>
<ellipse class="k" cx="665.5" cy="565" rx="5.3" ry="3"/>
<ellipse class="k" cx="692.5" cy="578.3" rx="8.3" ry="4.7"/>
<ellipse class="t" cx="693.3" cy="579.3" rx="6" ry="3"/>
<ellipse class="t" cx="655.5" cy="604.7" rx="4.2" ry="2"/>
<ellipse class="t" cx="742.2" cy="562.8" rx="4.5" ry="2.3"/>
<ellipse class="k" cx="772.5" cy="560" rx="6.7" ry="4.2"/>
<ellipse class="k" cx="772.5" cy="560" rx="3" ry="1.7"/>
<ellipse class="t" cx="630" cy="580.8" rx="1.3" ry="0.8"/>
<path class="g" d="M644.2 586.7 L661.7 575.8 L663.3 583.3 L650 590.3 ZM684.2 561.7 L703.3 550.8 L703.3 558.3 L690 565.3 Z" />
<path class="k" d="M672.5 571.7 L678.3 568.3 L681.7 571.7 L675.8 575 ZM670 576.7 L673.3 575 M682.5 570 L690 566.7" />
<ellipse class="kw" cx="737.5" cy="517" rx="15.3" ry="12"/>
<ellipse class="k" cx="737.5" cy="515.8" rx="11.7" ry="8.3"/>
<path class="k" d="M733.3 520 L733.3 506.7 L735.8 505.8 L735.8 519.2 M739.2 516.7 L739.2 504.2 C740.8 501.7 744.2 502.5 744.7 505 L744.7 508.3" />
<path class="t" d="M722.2 518.3 C722.5 525 730 529.2 737.5 529.2 C745 529.2 752.5 525 753 518.3" />
<path class="kw" d="M601.7 605 L607.5 603.3 L612 608.7 L612 639.7 L633.3 633.3 L634.2 640 L612 646.7 L601.7 638.7 Z" />
<path class="k" d="M607.5 603.3 L607.5 635.8 L612 639.7 M615 625 L615 637.5 L631.7 632 M615 625 L626.7 631.7" />
<path class="kw" d="M621.7 615.3 L630 612 L645.3 623.3 L640.3 627 Z" />
<path class="k" d="M623.3 616.7 L641.7 627.5" />
<path class="kw" d="M635.3 642.5 L625.8 720.3 L625.8 728.7 L633.3 733.7 L658.7 725 L673.7 652 Z" />
<path class="k" d="M643.3 650 L633.7 720.3 L633.7 733 M625.8 720.3 L633.7 720.3" />
<path class="g" d="M652 655 L646.7 723.3 M643.3 670 L640 722.5 M640 723.3 L658.3 723.3" />
<ellipse class="k" cx="635.3" cy="729.7" rx="1.3" ry="0.8"/>
<ellipse class="kw" cx="661.7" cy="640.8" rx="15.3" ry="12"/>
<ellipse class="k" cx="661.7" cy="639.7" rx="12" ry="8.7"/>
<path class="k" d="M657.5 644.2 L657.5 635.8 L660 635 L660 643.7 M663.7 640 L663.7 630 C665.3 628 668 628.7 668.3 630.8 L668.3 633.3" />
<ellipse class="k" cx="658.7" cy="643.7" rx="2.3" ry="1.5"/>
<path class="t" d="M646.3 641.7 C646.7 648.7 654.2 653 661.7 653 C669.2 653 676.7 648.7 677 641.7" />
<path class="ld" d="M737.2 586V626M611.5 731.7L633.3 720M496 695H524M552.5 670.5V688.5"/>
<path class="ld" stroke-dasharray="8 2" style="stroke:#555" d="M772.6 508V558"/>
<path class="ld" stroke-dasharray="14 2 3 2" style="stroke:#666;stroke-width:1.4" d="M662 613L553.3 720V706"/>
<path class="ld" style="stroke:#999" d="M662 613V634"/>
<path class="kw" d="M526.7 694.7 C527 692 530 689.2 533.3 687.5 L553.3 677.7 C556.7 676 563.3 676.7 570 680 C573 681.7 574.7 684.2 574.3 687.5 C573.7 690 572 691.3 570 692.7 L550 704.3 C546.7 706 540 705.8 533.3 703.3 C529.2 701.7 526.7 698.3 526.7 694.7 Z" />
<path class="g" d="M527.5 698.7C528.5 699.7 530.7 703.3 533.3 704.7C536 706.1 540.6 706.9 543.3 707C546.1 707.1 548.9 705.6 550 705.3" />
<ellipse class="t" cx="552.8" cy="689.2" rx="4.2" ry="2"/>
<path class="ld" style="stroke:#666" d="M552.5 670.5V688.5"/>
<path class="kw" d="M868.4 183.1 L868.4 210.1 C870.7 213.3 877.8 213.3 880.1 210.1 L880.1 183.1 Z" />
<path class="t" d="M868.4 188.4C869.3 188.7 872.3 190.2 874.2 190.2C876.2 190.2 879.1 188.7 880.1 188.4" />
<path class="t" d="M868.4 192.4C869.3 192.7 872.3 194.1 874.2 194.1C876.2 194.1 879.1 192.7 880.1 192.4" />
<path class="t" d="M868.4 196.3C869.3 196.6 872.3 198 874.2 198C876.2 198 879.1 196.6 880.1 196.3" />
<path class="t" d="M868.4 200.2C869.3 200.5 872.3 202 874.2 202C876.2 202 879.1 200.5 880.1 200.2" />
<path class="t" d="M868.4 204.1C869.3 204.4 872.3 205.9 874.2 205.9C876.2 205.9 879.1 204.4 880.1 204.1" />
<path class="t" d="M868.4 208C869.3 208.3 872.3 209.8 874.2 209.8C876.2 209.8 879.1 208.3 880.1 208" />
<ellipse class="kw" cx="874.2" cy="176.4" rx="14.8" ry="7.5"/>
<path class="kw" d="M862.7 175.1 C862.7 167.1 867.1 162.7 874.2 162.7 C881.3 162.7 885.8 167.1 885.8 175.1 C882.2 178.7 866.2 178.7 862.7 175.1 Z" />
<path class="g" d="M866.6 170.7C867.1 171.1 867.8 172.9 869.8 173.3C871.8 173.8 876.6 173.8 878.7 173.3C880.7 172.9 881.6 171.1 882.2 170.7" />
<path class="kw" d="M867.6 235.6 L867.6 261.7 C870.1 265.2 879.6 265.2 882.2 261.7 L882.2 235.6 Z" />
<path class="t" d="M867.6 240.9C868.8 241.2 872.3 242.7 874.8 242.7C877.2 242.7 881 241.2 882.2 240.9" />
<path class="t" d="M867.6 245.2C868.8 245.5 872.3 246.9 874.8 246.9C877.2 246.9 881 245.5 882.2 245.2" />
<path class="t" d="M867.6 249.4C868.8 249.7 872.3 251.2 874.8 251.2C877.2 251.2 881 249.7 882.2 249.4" />
<path class="t" d="M867.6 253.7C868.8 254 872.3 255.5 874.8 255.5C877.2 255.5 881 254 882.2 253.7" />
<path class="t" d="M867.6 258C868.8 258.3 872.3 259.7 874.8 259.7C877.2 259.7 881 258.3 882.2 258" />
<path class="kw" d="M861.2 223.1 C861.2 219.6 867.1 216.9 874.2 216.9 C881.3 216.9 887.2 219.6 887.2 223.1 L887.2 231.1 C887.2 234.7 881.3 237.3 874.2 237.3 C867.1 237.3 861.2 234.7 861.2 231.1 Z" />
<path class="t" d="M861.2 224C862.2 224.7 863.8 227.7 867.1 228.4C870.5 229.2 878 229.2 881.3 228.4C884.7 227.7 886.2 224.7 887.2 224" />
<path class="t" d="M870.7 221.3C871.3 221.5 873 222.5 874.2 222.6C875.4 222.7 876.9 222.2 877.8 221.9C878.7 221.5 879.3 220.7 879.6 220.4" />
<ellipse class="kw" cx="868.9" cy="304.4" rx="23.5" ry="13.5"/>
<ellipse class="kw" cx="868.9" cy="301.9" rx="23.5" ry="13.5"/>
<ellipse class="k" cx="870.1" cy="301.3" rx="12.1" ry="6.8"/>
<path class="t" d="M858.8 303.1C859.7 302.2 861.6 298.7 864.4 297.8C867.3 296.9 873.1 296.9 876 297.8C878.9 298.7 880.9 302.2 881.9 303.1" />
<path class="kw" d="M890.7 344 C893.3 346.7 894.9 350 894.7 352 L893.3 360 L892.7 364.3 L880 370.9 L877.3 368.3 L878.7 362.7 L873.3 346.7 Z" />
<path class="t" d="M880 370.9 L880.7 364 L893.3 360 M884 358.7 L892.7 354.7" />
<ellipse class="kw" cx="873.3" cy="334.7" rx="19.3" ry="10.7"/>
<path class="kw" d="M868.7 340 L869.3 326.9 C870 324 874.7 322.4 878 324.7 L880 336 C878.7 338.7 875.3 340.3 872 340.3 Z" />
<path class="k" d="M872 328.3 L871.5 340 M874.9 326.7 L876.7 337.3" />
<path class="kw" d="M852 342.9 C852.7 341.3 854.7 341.1 856 342 L861.3 346.7 C862.9 348.7 862.9 351.3 862 352.7 L857.3 356.3 L854.9 354.9 L853.3 350.9 ZM861.3 352.3 C863.3 350.4 866 350.4 867.3 352 L868.7 358.7 L864.8 361.6 L862.1 358.9 ZM868.7 353.6 C870.7 351.3 874.4 351.3 876.3 353.1 L879.5 356.3 L879.5 362.9 L873.3 366.3 L870.1 362.9 Z" />
<path class="t" d="M854.7 346.7 C856 348.7 856.7 352 857.3 356.3 M870.7 356.7 C871.7 359.3 872.7 362.7 873.3 366.3" />
<path class="kw" d="M875.3 392 L882.7 388.7 L888.7 390 L890.7 398 L894 398.9 L894 412.3 L891.5 414.9 L880 412.3 L878.7 400 Z" />
<path class="t" d="M882.7 390.7 L886.7 392.7 L887.5 397.1 L890.7 398 M887.5 397.1 L886.7 412 M890.7 398 L891.5 414.9" />
<path class="kw" d="M847.3 400.3 C848 398.4 849.6 397.6 850.9 397.6 L856.3 398.7 L858.7 400.3 L860 389.6 C860.3 386.4 862.7 385.1 864.3 385.6 L872 392 C876.7 395.3 879.7 400 880 405.3 L878.9 414.7 C878 418 874.9 419.7 870.7 420.5 C866.7 421.1 862.7 420 860 418.7 L856.7 415.5 L847.7 413.6 Z" />
<path class="k" d="M858.7 400.3C859.1 400.7 859.6 402.4 861.3 402.9C863.1 403.4 866.9 403.7 869.3 403.2C871.8 402.7 874.6 400.7 876 399.7C877.4 398.8 877.7 397.7 878 397.3" />
<path class="t" d="M860 389.6C860.6 390.1 861.9 391.8 863.3 392.7C864.8 393.5 867.2 394.8 868.7 394.7C870.1 394.6 871.4 392.4 872 392" />
<path class="t" d="M854.4 398.9 L854.9 414.9 M856.7 415.5 C857.3 412 858 406.7 858.7 400.3" />
<path class="kw" d="M860 457 L862 465 L869.3 474.6 L876 476.6 L881.6 473.3 L887.5 462.6 L888.3 457 Z" />
<ellipse class="k" cx="874.7" cy="465" rx="4.8" ry="4"/>
<path class="t" d="M872.7 463 L873.3 467.7 M876.7 463 L876.3 467.7 M871.3 465 L878.7 465" />
<path class="kw" d="M848 446.3 L857.3 440.5 L856.3 437.8 L866.7 431.1 C868.7 430.3 870.7 431 872.3 432.3 L889.3 442.3 L890.1 446.3 L896 449.8 L880 459.9 L874.9 460.5 L848.3 447.4 Z" />
<path class="t" d="M857.3 440.5 L877.3 451.7 L878.7 447.7 L861.3 437.7 M866.7 431.1 L884 441.7 L885.3 446.3 L890.1 446.3 M877.3 451.7 L880 459.9 M878.7 447.7 L884 441.7 M850 448.3 L874.9 458.3 L894 451" />
<path class="t" d="M861.3 437.7 L864 435.7 L880 445.7 L878.7 447.7" />
<ellipse class="kw" cx="865.6" cy="499.9" rx="14.4" ry="13.3" transform="rotate(-15 865.6 499.9)"/>
<path class="k" d="M862.7 503.7C863 502.7 863.3 499.3 864.7 497.7C866 496 868.7 494.2 870.7 493.7C872.7 493.1 875.1 493.7 876.7 494.3C878.2 495 879.4 497.1 880 497.7" />
<path class="kw" d="M860 505 L862 501.7 L868.7 501 L870.7 503.7 L878.7 499.7 L886 501.7 L891.3 508.3 L892.3 518.3 L889.3 524.3 L878.7 527 L866.7 524.3 L860.7 518.3 Z" />
<ellipse class="k" cx="878.4" cy="509.3" rx="13.3" ry="6.9"/>
<path class="k" d="M865.1 517C866 517.8 868.4 520.7 870.7 521.7C872.9 522.7 876 523 878.7 523C881.3 523 884.4 522.7 886.7 521.7C888.9 520.7 891.3 517.8 892.3 517" />
<path class="t" d="M861.3 518.3C862.6 519.4 865.8 523.6 868.7 525C871.6 526.4 875.4 527 878.7 527C881.9 527 885.7 526.2 888 525C890.3 523.8 891.6 520.6 892.3 519.7" />
<path class="k" d="M870.7 511.7 L874.9 505.7 L882.7 511.7 ZM874 510.3 L874.4 526.3 M876.3 510.3 L876.8 526.6" />
<path class="t" d="M860 505 L860.7 518.3 M862 501.7 L862.9 515.7" />
<ellipse class="kw" cx="870.7" cy="567.5" rx="23.1" ry="12.1"/>
<ellipse class="kw" cx="870.7" cy="565.7" rx="23.1" ry="12.1"/>
<path class="kw" d="M852.9 558.2 L856.4 546.7 C858.2 541.3 864.4 539.6 870.7 539.6 C876.9 539.6 883.1 541.3 885.4 546.7 L890.2 558.2 L890.2 563.6 C884 570.7 859.1 570.7 852.9 563.6 Z" />
<path class="t" d="M861.2 563.6 L861.2 568.9 M879.6 563.6 L879.6 568.9 M852.9 558.2 C859.1 563.6 882.2 563.6 890.2 558.2" />
<ellipse class="k" cx="870.1" cy="547.6" rx="12.8" ry="7.1"/>
<ellipse class="t" cx="870.1" cy="548.4" rx="8" ry="4.3"/>
<path class="kw" d="M841.3 619 L868.4 600 L893.2 613.3 L893.2 620.4 L864.4 636.4 L860 632.9 L846.7 624.9 Z" />
<path class="t" d="M841.3 619 L864.4 630.2 L893.2 613.3 M864.4 630.2 L864.4 636.4 M846.7 622.2 L855.6 627.6 L858.2 624.9" />
<path class="kw" d="M861.8 615.1 C861.8 608.9 874.2 608.9 874.2 615.1 C874.2 617.8 861.8 617.8 861.8 615.1 Z" />
<path class="kw" d="M862.7 680.8 L870.7 690.8 L878.7 680.8 Z" />
<path class="t" d="M865.3 684.9 L876 684.9" />
<ellipse class="kw" cx="870.7" cy="665.9" rx="22.8" ry="13.3"/>
<ellipse class="kw" cx="870.7" cy="662.3" rx="22.8" ry="13.3"/>
<ellipse class="k" cx="871.2" cy="661.8" rx="5" ry="2.5"/>
<path class="kw" d="M828.5 708 L838.7 714.2 L872.4 695.6 L893.2 707.1 L893.2 714.2 L869.8 730.6 L869.8 738.8 L828.5 738.8 Z" />
<path class="k" d="M828.5 732.4 L867.6 732.4 L869.8 733.8 L869.8 738.8 L828.5 738.8 Z" style="fill:#111"/>
<path class="k" d="M860.9 726.7 L893.2 707.5 L893.2 714.2 L867.6 732.4 Z" style="fill:#111"/>
<path class="kw" d="M35 668.3 C33.3 661.7 43.3 657.3 53.3 657.3 L66.7 660 L70 668.3 L77.3 669.3 C85 671.7 87.3 677.3 85 682.7 C81.7 687.3 66.7 687.3 61.7 685 L40 674 Z" />
<ellipse class="k" cx="50" cy="668.3" rx="8.7" ry="4.7" transform="rotate(8 50 668.3)"/>
<ellipse class="k" cx="71.7" cy="679.3" rx="5.3" ry="2.7"/>
<path class="t" d="M36 671.7C36.9 672.6 37.1 674.6 41.7 677.3C46.2 680.1 56.4 686.9 63.3 688.3C70.3 689.8 80 686.4 83.3 686" />
<ellipse class="k" cx="59.3" cy="724" rx="27.3" ry="16" transform="rotate(3 59.3 724)"/>
<ellipse class="k" cx="59.3" cy="724" rx="23.3" ry="12.7" transform="rotate(3 59.3 724)"/>
<!-- legend frames -->
<g class="fr">
<rect x="823.5" y="161.5" width="74" height="583"/>
<path d="M823.5 214.5h74M823.5 267.5h74M823.5 320.5h74M823.5 373.5h74M823.5 426.5h74M823.5 479.5h74M823.5 532.5h74M823.5 585.5h74M823.5 638.5h74M823.5 691.5h74"/>
<rect x="17.5" y="638.5" width="72.5" height="105.5"/>
<path d="M17.5 691.5h72.5"/>
</g>
<g opacity="0.996">
<text transform="translate(827.3 180) scale(1.1 1)" font-family="Liberation Sans, sans-serif" font-weight="bold" font-size="20" text-anchor="start" fill="#111">23</text>
<text transform="translate(827.3 233) scale(1.1 1)" font-family="Liberation Sans, sans-serif" font-weight="bold" font-size="20" text-anchor="start" fill="#111">17</text>
<text transform="translate(827.3 286) scale(1.1 1)" font-family="Liberation Sans, sans-serif" font-weight="bold" font-size="20" text-anchor="start" fill="#111">15</text>
<text transform="translate(827.3 339) scale(1.1 1)" font-family="Liberation Sans, sans-serif" font-weight="bold" font-size="20" text-anchor="start" fill="#111">14</text>
<text transform="translate(827.3 392) scale(1.1 1)" font-family="Liberation Sans, sans-serif" font-weight="bold" font-size="20" text-anchor="start" fill="#111">13</text>
<text transform="translate(827.3 445) scale(1.1 1)" font-family="Liberation Sans, sans-serif" font-weight="bold" font-size="20" text-anchor="start" fill="#111">11</text>
<text transform="translate(827.3 498) scale(1.1 1)" font-family="Liberation Sans, sans-serif" font-weight="bold" font-size="20" text-anchor="start" fill="#111">10</text>
<text transform="translate(827.3 551) scale(1.1 1)" font-family="Liberation Sans, sans-serif" font-weight="bold" font-size="20" text-anchor="start" fill="#111">5</text>
<text transform="translate(822.5 582) scale(1.1 1)" font-family="Liberation Sans, sans-serif" font-weight="bold" font-size="20" text-anchor="start" fill="#111">16</text>
<text transform="translate(827.3 604) scale(1.1 1)" font-family="Liberation Sans, sans-serif" font-weight="bold" font-size="20" text-anchor="start" fill="#111">3</text>
<text transform="translate(827.3 657) scale(1.1 1)" font-family="Liberation Sans, sans-serif" font-weight="bold" font-size="20" text-anchor="start" fill="#111">2</text>
<text transform="translate(19.5 658) scale(1.05 1)" font-family="Liberation Sans, sans-serif" font-weight="bold" font-size="20" text-anchor="start" fill="#111">B</text>
<text transform="translate(19.5 711) scale(1.05 1)" font-family="Liberation Sans, sans-serif" font-weight="bold" font-size="20" text-anchor="start" fill="#111">A</text>
<circle class="c" cx="539" cy="266" r="17.2"/>
<circle class="c" cx="618" cy="266.7" r="17.2"/>
<circle class="c" cx="372.3" cy="300.3" r="17.2"/>
<circle class="c" cx="402.3" cy="321" r="17.2"/>
<circle class="c" cx="489.5" cy="374.5" r="17.2"/>
<circle class="c" cx="489.2" cy="411.3" r="17.2"/>
<circle class="c" cx="611.9" cy="432.6" r="17.2"/>
<circle class="c" cx="712.7" cy="332.3" r="17.2"/>
<circle class="c" cx="773.3" cy="490" r="17.2"/>
<circle class="c" cx="552.3" cy="652.7" r="17.2"/>
<circle class="c" cx="593.3" cy="740" r="17.2"/>
<circle class="c" cx="123.7" cy="452.3" r="17.2"/>
<circle class="c" cx="161.7" cy="452.3" r="17.2"/>
<text transform="translate(539 273.4) scale(1.08 1)" font-family="Liberation Sans, sans-serif" font-weight="bold" font-size="20.5" text-anchor="middle" fill="#111">14</text>
<text transform="translate(618 274.09999999999997) scale(1.08 1)" font-family="Liberation Sans, sans-serif" font-weight="bold" font-size="20.5" text-anchor="middle" fill="#111">23</text>
<text transform="translate(372.3 307.7) scale(1.08 1)" font-family="Liberation Sans, sans-serif" font-weight="bold" font-size="20.5" text-anchor="middle" fill="#111">16</text>
<text transform="translate(402.3 328.4) scale(1.08 1)" font-family="Liberation Sans, sans-serif" font-weight="bold" font-size="20.5" text-anchor="middle" fill="#111">15</text>
<text transform="translate(489.5 381.9) scale(1.08 1)" font-family="Liberation Sans, sans-serif" font-weight="bold" font-size="20.5" text-anchor="middle" fill="#111">17</text>
<text transform="translate(489.2 418.7) scale(1.08 1)" font-family="Liberation Sans, sans-serif" font-weight="bold" font-size="20.5" text-anchor="middle" fill="#111">13</text>
<text transform="translate(611.9 440.0) scale(1.08 1)" font-family="Liberation Sans, sans-serif" font-weight="bold" font-size="20.5" text-anchor="middle" fill="#111">10</text>
<text transform="translate(712.7 339.7) scale(1.08 1)" font-family="Liberation Sans, sans-serif" font-weight="bold" font-size="20.5" text-anchor="middle" fill="#111">11</text>
<text transform="translate(773.3 497.4) scale(1.08 1)" font-family="Liberation Sans, sans-serif" font-weight="bold" font-size="20.5" text-anchor="middle" fill="#111">2</text>
<text transform="translate(552.3 660.1) scale(1.08 1)" font-family="Liberation Sans, sans-serif" font-weight="bold" font-size="20.5" text-anchor="middle" fill="#111">5</text>
<text transform="translate(593.3 747.4) scale(1.08 1)" font-family="Liberation Sans, sans-serif" font-weight="bold" font-size="20.5" text-anchor="middle" fill="#111">3</text>
<text transform="translate(123.7 459.7) scale(1.08 1)" font-family="Liberation Sans, sans-serif" font-weight="bold" font-size="20.5" text-anchor="middle" fill="#111">A</text>
<text transform="translate(161.7 459.7) scale(1.08 1)" font-family="Liberation Sans, sans-serif" font-weight="bold" font-size="20.5" text-anchor="middle" fill="#111">B</text>
<text transform="translate(28 475.09999999999997) scale(1.08 1)" font-family="Liberation Sans, sans-serif" font-weight="bold" font-size="20.5" text-anchor="middle" fill="#111">20</text>
<text transform="translate(108.3 539.6999999999999) scale(1.08 1)" font-family="Liberation Sans, sans-serif" font-weight="bold" font-size="20.5" text-anchor="middle" fill="#111">18</text>
<text transform="translate(140.7 500.7) scale(1.08 1)" font-family="Liberation Sans, sans-serif" font-weight="bold" font-size="20.5" text-anchor="middle" fill="#111">24</text>
<text transform="translate(239.3 539.6999999999999) scale(1.08 1)" font-family="Liberation Sans, sans-serif" font-weight="bold" font-size="20.5" text-anchor="middle" fill="#111">19</text>
<text transform="translate(295 539.6999999999999) scale(1.08 1)" font-family="Liberation Sans, sans-serif" font-weight="bold" font-size="20.5" text-anchor="middle" fill="#111">22</text>
<text transform="translate(370 500.09999999999997) scale(1.08 1)" font-family="Liberation Sans, sans-serif" font-weight="bold" font-size="20.5" text-anchor="middle" fill="#111">21</text>
<text transform="translate(575.7 602.4) scale(1.08 1)" font-family="Liberation Sans, sans-serif" font-weight="bold" font-size="20.5" text-anchor="middle" fill="#111">7</text>
<text transform="translate(485 703.1) scale(1.08 1)" font-family="Liberation Sans, sans-serif" font-weight="bold" font-size="20.5" text-anchor="middle" fill="#111">4</text>
<text transform="translate(738.2 645.4) scale(1.08 1)" font-family="Liberation Sans, sans-serif" font-weight="bold" font-size="20.5" text-anchor="middle" fill="#111">1</text>
<text transform="translate(694.7 499.09999999999997) scale(1.08 1)" font-family="Liberation Sans, sans-serif" font-weight="bold" font-size="20.5" text-anchor="middle" fill="#111">8</text>
<text transform="translate(441 307.9) scale(1.08 1)" font-family="Liberation Sans, sans-serif" font-weight="bold" font-size="20.5" text-anchor="middle" fill="#111">9</text>
<text transform="translate(573 274.4) scale(1.08 1)" font-family="Liberation Sans, sans-serif" font-weight="bold" font-size="20.5" text-anchor="middle" fill="#111">12</text>
<text transform="translate(661.3 274.09999999999997) scale(1.08 1)" font-family="Liberation Sans, sans-serif" font-weight="bold" font-size="20.5" text-anchor="middle" fill="#111">6</text>
<text x="24.3" y="760" font-family="Liberation Sans, sans-serif" font-weight="bold" font-size="19" fill="#1a1a1a" stroke="#1a1a1a" stroke-width="0.3" textLength="14" lengthAdjust="spacingAndGlyphs">©</text>
<text x="42" y="759.5" font-family="Liberation Sans, sans-serif" font-weight="bold" font-size="17.5" fill="#1a1a1a" stroke="#1a1a1a" stroke-width="0.35" textLength="56.5" lengthAdjust="spacingAndGlyphs">BMW AG</text>
<text x="829" y="760" font-family="Liberation Sans, sans-serif" font-size="15.5" fill="#555" textLength="63.5" lengthAdjust="spacingAndGlyphs">00203392</text>
</g>
<defs>
<filter id="wsh" x="-10%" y="-10%" width="125%" height="125%">
<feGaussianBlur in="SourceAlpha" stdDeviation="0.9" result="b"/>
<feOffset in="b" dx="1.5" dy="1.6" result="ob"/>
<feComposite in="ob" in2="SourceAlpha" operator="out" result="sh"/>
<feFlood flood-color="#000" flood-opacity="0.3"/>
<feComposite in2="sh" operator="in" result="shc"/>
<feFlood flood-color="#fff" flood-opacity="0.22"/>
<feComposite in2="SourceAlpha" operator="in" result="body"/>
<feMerge><feMergeNode in="shc"/><feMergeNode in="body"/></feMerge>
</filter>
</defs>
<g filter="url(#wsh)">
<path fill-rule="evenodd" d="M288 414.5A33.5 33.5 0 1 0 288 481.5A33.5 33.5 0 0 0 309 474C303 468 301 463 306 459C311 451 311 441 306 432C301 428 303 424 309 422A33.5 33.5 0 0 0 288 414.5ZM288 438A10 10 0 1 1 288 458A10 10 0 0 1 288 438Z"/>
<path d="M311 420C322 428 330 438 330 450C330 462 324 472 315 478C308 472 304 466 309 461C315 452 315 442 309 434C304 428 306 423 311 420Z"/>
<text x="333.8" y="474.4" font-family="Liberation Sans, sans-serif" font-weight="bold" font-size="78.5" textLength="160.5" lengthAdjust="spacingAndGlyphs">FCP</text>
<text x="504.8" y="473" font-family="Liberation Sans, sans-serif" font-size="53.8" textLength="145.5" lengthAdjust="spacingAndGlyphs">EURO</text>
</g>

</g>
</svg>
</body>
</html>
